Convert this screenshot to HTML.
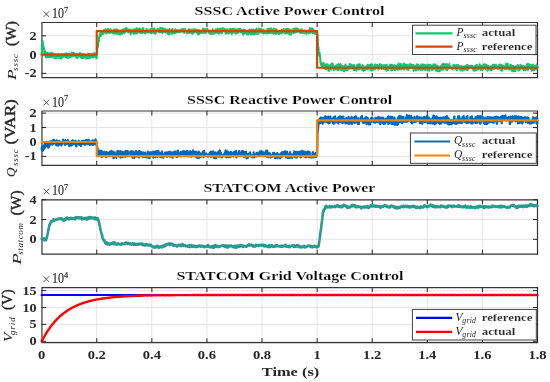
<!DOCTYPE html>
<html><head><meta charset="utf-8"><style>
html,body{margin:0;padding:0;background:#fff;width:550px;height:382px;overflow:hidden}
text{font-family:"Liberation Serif",serif}
</style></head><body>
<svg width="550" height="382" viewBox="0 0 550 382" style="display:block;will-change:transform">
<rect width="550" height="382" fill="#fff"/>
<defs>
<clipPath id="c0"><rect x="39.65" y="21.5" width="499.85" height="57.2"/></clipPath>
<clipPath id="c1"><rect x="39.65" y="110.0" width="499.85" height="56.30000000000001"/></clipPath>
<clipPath id="c2"><rect x="39.65" y="198.8" width="499.85" height="56.39999999999998"/></clipPath>
<clipPath id="c3"><rect x="39.65" y="286.6" width="499.85" height="57.099999999999966"/></clipPath>
</defs>
<line x1="96.74" y1="22.5" x2="96.74" y2="77.7" stroke="#dedede" stroke-width="0.8"/>
<line x1="151.84" y1="22.5" x2="151.84" y2="77.7" stroke="#dedede" stroke-width="0.8"/>
<line x1="206.93" y1="22.5" x2="206.93" y2="77.7" stroke="#dedede" stroke-width="0.8"/>
<line x1="262.03" y1="22.5" x2="262.03" y2="77.7" stroke="#dedede" stroke-width="0.8"/>
<line x1="317.12" y1="22.5" x2="317.12" y2="77.7" stroke="#dedede" stroke-width="0.8"/>
<line x1="372.22" y1="22.5" x2="372.22" y2="77.7" stroke="#dedede" stroke-width="0.8"/>
<line x1="427.31" y1="22.5" x2="427.31" y2="77.7" stroke="#dedede" stroke-width="0.8"/>
<line x1="482.41" y1="22.5" x2="482.41" y2="77.7" stroke="#dedede" stroke-width="0.8"/>
<line x1="537.50" y1="22.5" x2="537.50" y2="77.7" stroke="#dedede" stroke-width="0.8"/>
<line x1="41.65" y1="73.40" x2="537.5" y2="73.40" stroke="#dedede" stroke-width="0.8"/>
<line x1="41.65" y1="54.60" x2="537.5" y2="54.60" stroke="#dedede" stroke-width="0.8"/>
<line x1="41.65" y1="35.80" x2="537.5" y2="35.80" stroke="#dedede" stroke-width="0.8"/>
<line x1="96.74" y1="111.0" x2="96.74" y2="165.3" stroke="#dedede" stroke-width="0.8"/>
<line x1="151.84" y1="111.0" x2="151.84" y2="165.3" stroke="#dedede" stroke-width="0.8"/>
<line x1="206.93" y1="111.0" x2="206.93" y2="165.3" stroke="#dedede" stroke-width="0.8"/>
<line x1="262.03" y1="111.0" x2="262.03" y2="165.3" stroke="#dedede" stroke-width="0.8"/>
<line x1="317.12" y1="111.0" x2="317.12" y2="165.3" stroke="#dedede" stroke-width="0.8"/>
<line x1="372.22" y1="111.0" x2="372.22" y2="165.3" stroke="#dedede" stroke-width="0.8"/>
<line x1="427.31" y1="111.0" x2="427.31" y2="165.3" stroke="#dedede" stroke-width="0.8"/>
<line x1="482.41" y1="111.0" x2="482.41" y2="165.3" stroke="#dedede" stroke-width="0.8"/>
<line x1="537.50" y1="111.0" x2="537.50" y2="165.3" stroke="#dedede" stroke-width="0.8"/>
<line x1="41.65" y1="156.45" x2="537.5" y2="156.45" stroke="#dedede" stroke-width="0.8"/>
<line x1="41.65" y1="142.00" x2="537.5" y2="142.00" stroke="#dedede" stroke-width="0.8"/>
<line x1="41.65" y1="127.55" x2="537.5" y2="127.55" stroke="#dedede" stroke-width="0.8"/>
<line x1="41.65" y1="113.10" x2="537.5" y2="113.10" stroke="#dedede" stroke-width="0.8"/>
<line x1="96.74" y1="199.8" x2="96.74" y2="254.2" stroke="#dedede" stroke-width="0.8"/>
<line x1="151.84" y1="199.8" x2="151.84" y2="254.2" stroke="#dedede" stroke-width="0.8"/>
<line x1="206.93" y1="199.8" x2="206.93" y2="254.2" stroke="#dedede" stroke-width="0.8"/>
<line x1="262.03" y1="199.8" x2="262.03" y2="254.2" stroke="#dedede" stroke-width="0.8"/>
<line x1="317.12" y1="199.8" x2="317.12" y2="254.2" stroke="#dedede" stroke-width="0.8"/>
<line x1="372.22" y1="199.8" x2="372.22" y2="254.2" stroke="#dedede" stroke-width="0.8"/>
<line x1="427.31" y1="199.8" x2="427.31" y2="254.2" stroke="#dedede" stroke-width="0.8"/>
<line x1="482.41" y1="199.8" x2="482.41" y2="254.2" stroke="#dedede" stroke-width="0.8"/>
<line x1="537.50" y1="199.8" x2="537.50" y2="254.2" stroke="#dedede" stroke-width="0.8"/>
<line x1="41.65" y1="239.30" x2="537.5" y2="239.30" stroke="#dedede" stroke-width="0.8"/>
<line x1="41.65" y1="219.50" x2="537.5" y2="219.50" stroke="#dedede" stroke-width="0.8"/>
<line x1="41.65" y1="199.70" x2="537.5" y2="199.70" stroke="#dedede" stroke-width="0.8"/>
<line x1="96.74" y1="287.6" x2="96.74" y2="342.7" stroke="#dedede" stroke-width="0.8"/>
<line x1="151.84" y1="287.6" x2="151.84" y2="342.7" stroke="#dedede" stroke-width="0.8"/>
<line x1="206.93" y1="287.6" x2="206.93" y2="342.7" stroke="#dedede" stroke-width="0.8"/>
<line x1="262.03" y1="287.6" x2="262.03" y2="342.7" stroke="#dedede" stroke-width="0.8"/>
<line x1="317.12" y1="287.6" x2="317.12" y2="342.7" stroke="#dedede" stroke-width="0.8"/>
<line x1="372.22" y1="287.6" x2="372.22" y2="342.7" stroke="#dedede" stroke-width="0.8"/>
<line x1="427.31" y1="287.6" x2="427.31" y2="342.7" stroke="#dedede" stroke-width="0.8"/>
<line x1="482.41" y1="287.6" x2="482.41" y2="342.7" stroke="#dedede" stroke-width="0.8"/>
<line x1="537.50" y1="287.6" x2="537.50" y2="342.7" stroke="#dedede" stroke-width="0.8"/>
<line x1="41.65" y1="341.30" x2="537.5" y2="341.30" stroke="#dedede" stroke-width="0.8"/>
<line x1="41.65" y1="324.40" x2="537.5" y2="324.40" stroke="#dedede" stroke-width="0.8"/>
<line x1="41.65" y1="307.50" x2="537.5" y2="307.50" stroke="#dedede" stroke-width="0.8"/>
<line x1="41.65" y1="290.60" x2="537.5" y2="290.60" stroke="#dedede" stroke-width="0.8"/>
<path d="M41.949999999999996,22.5 H537.5 V77.7 H41.949999999999996 Z" fill="none" stroke="#363636" stroke-width="1.2"/>
<line x1="96.74" y1="77.7" x2="96.74" y2="73.2" stroke="#262626" stroke-width="1"/>
<line x1="96.74" y1="22.5" x2="96.74" y2="27.0" stroke="#262626" stroke-width="1"/>
<line x1="151.84" y1="77.7" x2="151.84" y2="73.2" stroke="#262626" stroke-width="1"/>
<line x1="151.84" y1="22.5" x2="151.84" y2="27.0" stroke="#262626" stroke-width="1"/>
<line x1="206.93" y1="77.7" x2="206.93" y2="73.2" stroke="#262626" stroke-width="1"/>
<line x1="206.93" y1="22.5" x2="206.93" y2="27.0" stroke="#262626" stroke-width="1"/>
<line x1="262.03" y1="77.7" x2="262.03" y2="73.2" stroke="#262626" stroke-width="1"/>
<line x1="262.03" y1="22.5" x2="262.03" y2="27.0" stroke="#262626" stroke-width="1"/>
<line x1="317.12" y1="77.7" x2="317.12" y2="73.2" stroke="#262626" stroke-width="1"/>
<line x1="317.12" y1="22.5" x2="317.12" y2="27.0" stroke="#262626" stroke-width="1"/>
<line x1="372.22" y1="77.7" x2="372.22" y2="73.2" stroke="#262626" stroke-width="1"/>
<line x1="372.22" y1="22.5" x2="372.22" y2="27.0" stroke="#262626" stroke-width="1"/>
<line x1="427.31" y1="77.7" x2="427.31" y2="73.2" stroke="#262626" stroke-width="1"/>
<line x1="427.31" y1="22.5" x2="427.31" y2="27.0" stroke="#262626" stroke-width="1"/>
<line x1="482.41" y1="77.7" x2="482.41" y2="73.2" stroke="#262626" stroke-width="1"/>
<line x1="482.41" y1="22.5" x2="482.41" y2="27.0" stroke="#262626" stroke-width="1"/>
<line x1="537.50" y1="77.7" x2="537.50" y2="73.2" stroke="#262626" stroke-width="1"/>
<line x1="537.50" y1="22.5" x2="537.50" y2="27.0" stroke="#262626" stroke-width="1"/>
<line x1="41.65" y1="73.40" x2="46.15" y2="73.40" stroke="#262626" stroke-width="1"/>
<line x1="537.5" y1="73.40" x2="533.0" y2="73.40" stroke="#262626" stroke-width="1"/>
<line x1="41.65" y1="54.60" x2="46.15" y2="54.60" stroke="#262626" stroke-width="1"/>
<line x1="537.5" y1="54.60" x2="533.0" y2="54.60" stroke="#262626" stroke-width="1"/>
<line x1="41.65" y1="35.80" x2="46.15" y2="35.80" stroke="#262626" stroke-width="1"/>
<line x1="537.5" y1="35.80" x2="533.0" y2="35.80" stroke="#262626" stroke-width="1"/>
<path d="M41.949999999999996,111.0 H537.5 V165.3 H41.949999999999996 Z" fill="none" stroke="#363636" stroke-width="1.2"/>
<line x1="96.74" y1="165.3" x2="96.74" y2="160.8" stroke="#262626" stroke-width="1"/>
<line x1="96.74" y1="111.0" x2="96.74" y2="115.5" stroke="#262626" stroke-width="1"/>
<line x1="151.84" y1="165.3" x2="151.84" y2="160.8" stroke="#262626" stroke-width="1"/>
<line x1="151.84" y1="111.0" x2="151.84" y2="115.5" stroke="#262626" stroke-width="1"/>
<line x1="206.93" y1="165.3" x2="206.93" y2="160.8" stroke="#262626" stroke-width="1"/>
<line x1="206.93" y1="111.0" x2="206.93" y2="115.5" stroke="#262626" stroke-width="1"/>
<line x1="262.03" y1="165.3" x2="262.03" y2="160.8" stroke="#262626" stroke-width="1"/>
<line x1="262.03" y1="111.0" x2="262.03" y2="115.5" stroke="#262626" stroke-width="1"/>
<line x1="317.12" y1="165.3" x2="317.12" y2="160.8" stroke="#262626" stroke-width="1"/>
<line x1="317.12" y1="111.0" x2="317.12" y2="115.5" stroke="#262626" stroke-width="1"/>
<line x1="372.22" y1="165.3" x2="372.22" y2="160.8" stroke="#262626" stroke-width="1"/>
<line x1="372.22" y1="111.0" x2="372.22" y2="115.5" stroke="#262626" stroke-width="1"/>
<line x1="427.31" y1="165.3" x2="427.31" y2="160.8" stroke="#262626" stroke-width="1"/>
<line x1="427.31" y1="111.0" x2="427.31" y2="115.5" stroke="#262626" stroke-width="1"/>
<line x1="482.41" y1="165.3" x2="482.41" y2="160.8" stroke="#262626" stroke-width="1"/>
<line x1="482.41" y1="111.0" x2="482.41" y2="115.5" stroke="#262626" stroke-width="1"/>
<line x1="537.50" y1="165.3" x2="537.50" y2="160.8" stroke="#262626" stroke-width="1"/>
<line x1="537.50" y1="111.0" x2="537.50" y2="115.5" stroke="#262626" stroke-width="1"/>
<line x1="41.65" y1="156.45" x2="46.15" y2="156.45" stroke="#262626" stroke-width="1"/>
<line x1="537.5" y1="156.45" x2="533.0" y2="156.45" stroke="#262626" stroke-width="1"/>
<line x1="41.65" y1="142.00" x2="46.15" y2="142.00" stroke="#262626" stroke-width="1"/>
<line x1="537.5" y1="142.00" x2="533.0" y2="142.00" stroke="#262626" stroke-width="1"/>
<line x1="41.65" y1="127.55" x2="46.15" y2="127.55" stroke="#262626" stroke-width="1"/>
<line x1="537.5" y1="127.55" x2="533.0" y2="127.55" stroke="#262626" stroke-width="1"/>
<line x1="41.65" y1="113.10" x2="46.15" y2="113.10" stroke="#262626" stroke-width="1"/>
<line x1="537.5" y1="113.10" x2="533.0" y2="113.10" stroke="#262626" stroke-width="1"/>
<path d="M41.949999999999996,199.8 H537.5 V254.2 H41.949999999999996 Z" fill="none" stroke="#363636" stroke-width="1.2"/>
<line x1="96.74" y1="254.2" x2="96.74" y2="249.7" stroke="#262626" stroke-width="1"/>
<line x1="96.74" y1="199.8" x2="96.74" y2="204.3" stroke="#262626" stroke-width="1"/>
<line x1="151.84" y1="254.2" x2="151.84" y2="249.7" stroke="#262626" stroke-width="1"/>
<line x1="151.84" y1="199.8" x2="151.84" y2="204.3" stroke="#262626" stroke-width="1"/>
<line x1="206.93" y1="254.2" x2="206.93" y2="249.7" stroke="#262626" stroke-width="1"/>
<line x1="206.93" y1="199.8" x2="206.93" y2="204.3" stroke="#262626" stroke-width="1"/>
<line x1="262.03" y1="254.2" x2="262.03" y2="249.7" stroke="#262626" stroke-width="1"/>
<line x1="262.03" y1="199.8" x2="262.03" y2="204.3" stroke="#262626" stroke-width="1"/>
<line x1="317.12" y1="254.2" x2="317.12" y2="249.7" stroke="#262626" stroke-width="1"/>
<line x1="317.12" y1="199.8" x2="317.12" y2="204.3" stroke="#262626" stroke-width="1"/>
<line x1="372.22" y1="254.2" x2="372.22" y2="249.7" stroke="#262626" stroke-width="1"/>
<line x1="372.22" y1="199.8" x2="372.22" y2="204.3" stroke="#262626" stroke-width="1"/>
<line x1="427.31" y1="254.2" x2="427.31" y2="249.7" stroke="#262626" stroke-width="1"/>
<line x1="427.31" y1="199.8" x2="427.31" y2="204.3" stroke="#262626" stroke-width="1"/>
<line x1="482.41" y1="254.2" x2="482.41" y2="249.7" stroke="#262626" stroke-width="1"/>
<line x1="482.41" y1="199.8" x2="482.41" y2="204.3" stroke="#262626" stroke-width="1"/>
<line x1="537.50" y1="254.2" x2="537.50" y2="249.7" stroke="#262626" stroke-width="1"/>
<line x1="537.50" y1="199.8" x2="537.50" y2="204.3" stroke="#262626" stroke-width="1"/>
<line x1="41.65" y1="239.30" x2="46.15" y2="239.30" stroke="#262626" stroke-width="1"/>
<line x1="537.5" y1="239.30" x2="533.0" y2="239.30" stroke="#262626" stroke-width="1"/>
<line x1="41.65" y1="219.50" x2="46.15" y2="219.50" stroke="#262626" stroke-width="1"/>
<line x1="537.5" y1="219.50" x2="533.0" y2="219.50" stroke="#262626" stroke-width="1"/>
<line x1="41.65" y1="199.70" x2="46.15" y2="199.70" stroke="#262626" stroke-width="1"/>
<line x1="537.5" y1="199.70" x2="533.0" y2="199.70" stroke="#262626" stroke-width="1"/>
<path d="M41.949999999999996,287.6 H537.5 V342.7 H41.949999999999996 Z" fill="none" stroke="#363636" stroke-width="1.2"/>
<line x1="96.74" y1="342.7" x2="96.74" y2="338.2" stroke="#262626" stroke-width="1"/>
<line x1="96.74" y1="287.6" x2="96.74" y2="292.1" stroke="#262626" stroke-width="1"/>
<line x1="151.84" y1="342.7" x2="151.84" y2="338.2" stroke="#262626" stroke-width="1"/>
<line x1="151.84" y1="287.6" x2="151.84" y2="292.1" stroke="#262626" stroke-width="1"/>
<line x1="206.93" y1="342.7" x2="206.93" y2="338.2" stroke="#262626" stroke-width="1"/>
<line x1="206.93" y1="287.6" x2="206.93" y2="292.1" stroke="#262626" stroke-width="1"/>
<line x1="262.03" y1="342.7" x2="262.03" y2="338.2" stroke="#262626" stroke-width="1"/>
<line x1="262.03" y1="287.6" x2="262.03" y2="292.1" stroke="#262626" stroke-width="1"/>
<line x1="317.12" y1="342.7" x2="317.12" y2="338.2" stroke="#262626" stroke-width="1"/>
<line x1="317.12" y1="287.6" x2="317.12" y2="292.1" stroke="#262626" stroke-width="1"/>
<line x1="372.22" y1="342.7" x2="372.22" y2="338.2" stroke="#262626" stroke-width="1"/>
<line x1="372.22" y1="287.6" x2="372.22" y2="292.1" stroke="#262626" stroke-width="1"/>
<line x1="427.31" y1="342.7" x2="427.31" y2="338.2" stroke="#262626" stroke-width="1"/>
<line x1="427.31" y1="287.6" x2="427.31" y2="292.1" stroke="#262626" stroke-width="1"/>
<line x1="482.41" y1="342.7" x2="482.41" y2="338.2" stroke="#262626" stroke-width="1"/>
<line x1="482.41" y1="287.6" x2="482.41" y2="292.1" stroke="#262626" stroke-width="1"/>
<line x1="537.50" y1="342.7" x2="537.50" y2="338.2" stroke="#262626" stroke-width="1"/>
<line x1="537.50" y1="287.6" x2="537.50" y2="292.1" stroke="#262626" stroke-width="1"/>
<line x1="41.65" y1="341.30" x2="46.15" y2="341.30" stroke="#262626" stroke-width="1"/>
<line x1="537.5" y1="341.30" x2="533.0" y2="341.30" stroke="#262626" stroke-width="1"/>
<line x1="41.65" y1="324.40" x2="46.15" y2="324.40" stroke="#262626" stroke-width="1"/>
<line x1="537.5" y1="324.40" x2="533.0" y2="324.40" stroke="#262626" stroke-width="1"/>
<line x1="41.65" y1="307.50" x2="46.15" y2="307.50" stroke="#262626" stroke-width="1"/>
<line x1="537.5" y1="307.50" x2="533.0" y2="307.50" stroke="#262626" stroke-width="1"/>
<line x1="41.65" y1="290.60" x2="46.15" y2="290.60" stroke="#262626" stroke-width="1"/>
<line x1="537.5" y1="290.60" x2="533.0" y2="290.60" stroke="#262626" stroke-width="1"/>
<polyline clip-path="url(#c0)" fill="none" stroke="#06c96a" stroke-width="2.0" stroke-linejoin="round" stroke-linecap="round"  points="41.65,55.40 41.86,51.92 41.98,50.26 42.07,49.38 42.29,46.12 42.31,45.13 42.50,43.14 42.64,40.94 42.71,41.69 42.92,44.06 42.97,44.74 43.13,46.02 43.30,47.86 43.35,47.38 43.56,48.27 43.63,48.55 43.77,47.02 43.97,48.73 43.98,49.70 44.19,48.50 44.30,52.69 44.40,53.73 44.62,51.60 44.63,54.66 44.83,55.06 44.96,53.12 45.04,53.59 45.25,51.56 45.29,53.39 45.46,54.37 45.62,54.75 45.68,56.03 45.89,57.18 45.95,56.44 46.10,54.46 46.28,56.67 46.31,55.96 46.52,57.49 46.61,53.54 46.74,57.00 46.94,56.19 46.95,53.03 47.16,54.64 47.27,52.96 47.37,54.20 47.58,53.62 47.60,56.74 47.80,54.51 47.93,54.71 48.01,53.31 48.22,55.94 48.27,54.57 48.43,57.13 48.60,55.72 48.64,56.26 48.85,57.12 48.93,54.10 49.07,56.40 49.26,53.30 49.28,55.53 49.49,55.41 49.59,54.94 49.70,54.61 49.91,57.28 49.92,55.66 50.25,56.55 50.58,55.71 50.91,57.12 51.24,52.58 51.57,56.21 51.90,54.07 52.24,55.85 52.57,53.36 52.90,54.59 53.23,57.31 53.56,53.88 53.89,53.90 54.22,54.24 54.55,55.83 54.88,57.99 55.21,57.97 55.54,54.17 55.87,56.18 56.20,58.01 56.54,54.13 56.87,55.39 57.20,55.77 57.53,56.51 57.86,56.17 58.19,57.00 58.52,57.95 58.85,53.72 59.18,55.87 59.51,55.67 59.84,56.75 60.17,54.76 60.50,58.60 60.84,56.93 61.17,58.49 61.50,58.30 61.83,54.11 62.16,55.52 62.49,56.77 62.82,56.43 63.15,54.21 63.48,56.64 63.81,55.38 64.14,54.79 64.47,56.40 64.81,55.45 65.14,54.18 65.47,53.46 65.80,57.21 66.13,53.29 66.46,57.80 66.79,54.14 67.12,54.21 67.45,57.66 67.78,56.26 68.11,54.03 68.44,57.88 68.77,54.98 69.11,54.37 69.44,55.65 69.77,54.49 70.10,57.06 70.43,56.86 70.76,56.05 71.09,56.62 71.42,55.66 71.75,52.57 72.08,54.88 72.41,55.98 72.74,56.25 73.07,52.88 73.41,55.63 73.74,52.98 74.07,55.33 74.40,55.62 74.73,53.85 75.06,54.82 75.39,55.60 75.72,56.60 76.05,54.32 76.38,56.55 76.71,54.02 77.04,58.21 77.38,56.24 77.71,56.03 78.04,53.88 78.37,57.09 78.70,54.48 79.03,54.88 79.36,54.63 79.69,54.95 80.02,53.05 80.35,56.40 80.68,56.33 81.01,57.40 81.34,58.13 81.68,57.27 82.01,53.89 82.34,54.40 82.67,58.10 83.00,55.83 83.33,56.74 83.66,56.20 83.99,56.04 84.32,57.73 84.65,54.48 84.98,56.86 85.31,56.02 85.64,55.86 85.98,57.93 86.31,58.67 86.64,56.78 86.97,55.24 87.30,54.75 87.63,55.35 87.96,58.14 88.29,54.15 88.62,54.61 88.95,54.07 89.28,55.66 89.61,53.78 89.94,57.96 90.28,57.89 90.61,57.68 90.94,56.26 91.27,56.35 91.60,56.19 91.93,54.48 92.26,56.98 92.59,54.31 92.92,56.46 93.25,53.99 93.58,57.42 93.91,56.06 94.25,52.96 94.58,55.04 94.91,54.16 95.24,54.91 95.57,55.25 95.90,57.42 96.23,55.54 96.56,58.35 96.89,52.42 97.22,47.97 97.55,45.13 97.88,47.23 98.21,43.45 98.55,41.83 98.88,41.06 99.21,37.12 99.54,35.33 99.87,36.71 100.20,33.12 100.53,32.67 100.86,35.94 101.19,32.10 101.52,31.08 101.85,34.07 102.18,31.96 102.51,31.61 102.85,31.56 103.18,33.95 103.51,30.57 103.84,30.78 104.17,29.66 104.50,29.64 104.83,32.32 105.16,30.18 105.49,29.38 105.82,29.52 106.15,33.09 106.48,33.57 106.82,30.39 107.15,32.79 107.48,30.75 107.81,28.75 108.14,31.87 108.47,32.48 108.80,31.00 109.13,29.78 109.46,33.04 109.79,31.29 110.12,32.91 110.45,30.18 110.78,29.23 111.12,31.91 111.45,32.13 111.78,31.26 112.11,32.72 112.44,32.50 112.77,32.43 113.10,31.62 113.43,33.45 113.76,29.86 114.09,30.69 114.42,32.14 114.75,33.43 115.08,29.47 115.42,33.10 115.75,33.38 116.08,33.41 116.41,33.87 116.74,29.21 117.07,32.92 117.40,33.00 117.73,30.35 118.06,31.69 118.39,33.93 118.72,32.75 119.05,30.33 119.38,33.12 119.72,31.14 120.05,34.54 120.38,31.01 120.71,30.91 121.04,30.21 121.37,30.98 121.70,32.45 122.03,34.05 122.36,31.43 122.69,29.89 123.02,32.95 123.35,32.48 123.69,30.72 124.02,29.75 124.35,28.98 124.68,32.73 125.01,32.61 125.34,29.13 125.67,29.72 126.00,29.28 126.33,28.07 126.66,28.22 126.99,29.04 127.32,29.15 127.65,31.22 127.99,29.85 128.32,32.38 128.65,29.47 128.98,29.52 129.31,29.86 129.64,31.59 129.97,32.27 130.30,31.99 130.63,34.24 130.96,29.70 131.29,31.46 131.62,32.62 131.95,31.59 132.29,30.59 132.62,32.55 132.95,30.28 133.28,29.83 133.61,32.75 133.94,33.97 134.27,30.51 134.60,29.05 134.93,33.49 135.26,30.25 135.59,29.51 135.92,29.21 136.26,33.40 136.59,33.45 136.92,28.23 137.25,32.83 137.58,32.39 137.91,29.98 138.24,30.60 138.57,29.01 138.90,32.15 139.23,28.38 139.56,32.11 139.89,28.83 140.22,32.85 140.56,30.45 140.89,33.02 141.22,31.36 141.55,31.53 141.88,29.46 142.21,30.73 142.54,33.00 142.87,28.11 143.20,28.81 143.53,28.73 143.86,32.23 144.19,31.33 144.52,32.35 144.86,33.02 145.19,33.61 145.52,30.94 145.85,32.75 146.18,32.82 146.51,28.97 146.84,30.81 147.17,32.49 147.50,29.80 147.83,32.32 148.16,31.23 148.49,32.60 148.83,31.13 149.16,30.62 149.49,31.39 149.82,32.20 150.15,29.91 150.48,29.41 150.81,33.05 151.14,33.22 151.47,33.23 151.80,28.51 152.13,28.42 152.46,32.38 152.79,28.43 153.13,32.38 153.46,30.56 153.79,30.82 154.12,28.61 154.45,33.47 154.78,32.27 155.11,30.72 155.44,33.74 155.77,32.86 156.10,31.62 156.43,29.42 156.76,29.81 157.09,29.41 157.43,29.74 157.76,30.02 158.09,28.92 158.42,29.84 158.75,29.44 159.08,31.70 159.41,32.38 159.74,28.91 160.07,32.12 160.40,27.66 160.73,29.79 161.06,31.33 161.39,28.21 161.73,32.23 162.06,30.60 162.39,32.96 162.72,28.06 163.05,30.06 163.38,29.00 163.71,32.08 164.04,29.42 164.37,30.22 164.70,30.44 165.03,28.90 165.36,31.68 165.70,32.07 166.03,30.62 166.36,29.76 166.69,32.41 167.02,31.00 167.35,33.38 167.68,31.52 168.01,30.09 168.34,34.07 168.67,30.46 169.00,34.44 169.33,29.12 169.66,31.72 170.00,31.97 170.33,30.29 170.66,31.60 170.99,30.42 171.32,33.85 171.65,31.15 171.98,31.26 172.31,28.97 172.64,33.65 172.97,31.41 173.30,30.63 173.63,30.88 173.96,33.27 174.30,30.58 174.63,32.73 174.96,32.76 175.29,29.17 175.62,33.13 175.95,31.71 176.28,30.39 176.61,30.95 176.94,31.52 177.27,30.13 177.60,32.20 177.93,31.46 178.27,30.17 178.60,30.83 178.93,30.94 179.26,32.27 179.59,31.00 179.92,31.80 180.25,29.88 180.58,31.71 180.91,31.26 181.24,29.54 181.57,30.66 181.90,31.46 182.23,28.98 182.57,31.38 182.90,29.02 183.23,29.20 183.56,31.26 183.89,29.54 184.22,33.08 184.55,31.42 184.88,29.03 185.21,30.61 185.54,31.14 185.87,30.85 186.20,30.75 186.53,31.21 186.87,31.95 187.20,33.39 187.53,32.72 187.86,33.14 188.19,32.47 188.52,29.27 188.85,32.81 189.18,32.23 189.51,32.69 189.84,31.44 190.17,29.30 190.50,29.71 190.84,32.45 191.17,33.08 191.50,29.65 191.83,31.56 192.16,30.42 192.49,33.81 192.82,29.52 193.15,32.49 193.48,31.07 193.81,32.63 194.14,31.35 194.47,29.16 194.80,29.22 195.14,31.00 195.47,29.51 195.80,31.55 196.13,31.92 196.46,30.57 196.79,32.46 197.12,32.14 197.45,30.19 197.78,29.97 198.11,34.34 198.44,30.46 198.77,29.96 199.10,32.05 199.44,33.92 199.77,30.31 200.10,32.92 200.43,30.91 200.76,32.35 201.09,30.85 201.42,32.92 201.75,31.71 202.08,31.20 202.41,30.50 202.74,32.74 203.07,28.44 203.40,32.32 203.74,32.18 204.07,32.16 204.40,33.21 204.73,30.89 205.06,29.01 205.39,29.43 205.72,32.34 206.05,32.65 206.38,31.80 206.71,29.28 207.04,31.00 207.37,28.70 207.71,30.26 208.04,30.74 208.37,30.10 208.70,30.43 209.03,32.75 209.36,33.17 209.69,32.00 210.02,31.76 210.35,33.86 210.68,32.60 211.01,31.18 211.34,34.11 211.67,33.84 212.01,33.47 212.34,32.77 212.67,29.23 213.00,33.97 213.33,32.89 213.66,33.12 213.99,31.39 214.32,33.62 214.65,30.98 214.98,32.57 215.31,31.89 215.64,29.17 215.97,32.73 216.31,30.05 216.64,31.14 216.97,31.51 217.30,29.57 217.63,33.04 217.96,28.59 218.29,28.94 218.62,30.22 218.95,33.77 219.28,30.14 219.61,30.57 219.94,29.33 220.28,32.58 220.61,28.49 220.94,28.56 221.27,32.75 221.60,31.75 221.93,33.39 222.26,29.17 222.59,28.56 222.92,28.10 223.25,30.38 223.58,30.18 223.91,30.28 224.24,30.87 224.58,28.65 224.91,30.51 225.24,31.86 225.57,30.85 225.90,33.67 226.23,29.85 226.56,30.07 226.89,31.66 227.22,29.36 227.55,29.63 227.88,31.79 228.21,33.63 228.54,33.43 228.88,33.37 229.21,32.71 229.54,31.53 229.87,29.01 230.20,32.33 230.53,29.09 230.86,30.25 231.19,29.17 231.52,31.61 231.85,34.01 232.18,29.16 232.51,32.24 232.84,32.57 233.18,28.98 233.51,29.83 233.84,32.47 234.17,32.27 234.50,28.63 234.83,32.34 235.16,29.91 235.49,33.37 235.82,29.44 236.15,33.37 236.48,31.01 236.81,33.60 237.15,30.75 237.48,29.16 237.81,33.08 238.14,31.88 238.47,28.91 238.80,30.01 239.13,31.60 239.46,29.74 239.79,30.79 240.12,28.77 240.45,32.20 240.78,29.77 241.11,30.73 241.45,30.16 241.78,32.44 242.11,30.43 242.44,30.78 242.77,32.25 243.10,34.48 243.43,29.45 243.76,30.92 244.09,33.64 244.42,30.52 244.75,32.96 245.08,32.02 245.41,29.99 245.75,32.16 246.08,33.20 246.41,32.89 246.74,34.02 247.07,33.19 247.40,33.02 247.73,33.59 248.06,34.34 248.39,32.05 248.72,33.50 249.05,30.45 249.38,29.49 249.72,32.91 250.05,31.11 250.38,31.80 250.71,34.28 251.04,34.08 251.37,29.61 251.70,31.79 252.03,29.92 252.36,34.22 252.69,31.42 253.02,29.90 253.35,29.47 253.68,34.31 254.02,31.55 254.35,32.26 254.68,30.23 255.01,33.90 255.34,33.00 255.67,29.97 256.00,31.44 256.33,31.60 256.66,28.56 256.99,32.11 257.32,34.04 257.65,31.98 257.98,33.29 258.32,33.69 258.65,30.85 258.98,28.62 259.31,30.89 259.64,30.24 259.97,31.96 260.30,30.23 260.63,29.16 260.96,30.27 261.29,29.05 261.62,30.55 261.95,32.66 262.29,30.46 262.62,31.12 262.95,33.00 263.28,30.51 263.61,29.65 263.94,33.65 264.27,31.64 264.60,30.84 264.93,32.21 265.26,33.08 265.59,32.55 265.92,31.66 266.25,30.84 266.59,31.15 266.92,33.56 267.25,29.52 267.58,28.98 267.91,33.34 268.24,32.56 268.57,32.69 268.90,29.06 269.23,28.56 269.56,33.06 269.89,31.29 270.22,32.00 270.55,30.91 270.89,28.33 271.22,32.93 271.55,32.42 271.88,30.83 272.21,30.53 272.54,29.64 272.87,31.72 273.20,33.47 273.53,32.20 273.86,28.62 274.19,30.00 274.52,33.16 274.85,29.61 275.19,32.29 275.52,29.58 275.85,33.93 276.18,29.35 276.51,33.07 276.84,31.31 277.17,30.20 277.50,31.18 277.83,33.34 278.16,33.43 278.49,32.79 278.82,34.03 279.16,33.11 279.49,33.64 279.82,31.76 280.15,32.28 280.48,30.93 280.81,32.48 281.14,33.51 281.47,32.17 281.80,29.87 282.13,32.78 282.46,31.95 282.79,30.06 283.12,32.04 283.46,29.30 283.79,29.02 284.12,32.43 284.45,30.03 284.78,32.62 285.11,33.48 285.44,31.52 285.77,30.67 286.10,28.65 286.43,33.01 286.76,29.97 287.09,31.24 287.42,33.32 287.76,28.73 288.09,30.07 288.42,33.33 288.75,29.29 289.08,34.08 289.41,34.23 289.74,33.08 290.07,29.89 290.40,34.64 290.73,29.68 291.06,31.35 291.39,34.24 291.73,31.55 292.06,32.25 292.39,31.75 292.72,30.86 293.05,30.54 293.38,28.82 293.71,33.03 294.04,29.51 294.37,31.84 294.70,29.87 295.03,29.17 295.36,28.49 295.69,32.40 296.03,31.40 296.36,28.75 296.69,28.40 297.02,31.71 297.35,28.66 297.68,31.50 298.01,31.50 298.34,29.35 298.67,30.94 299.00,30.82 299.33,31.21 299.66,30.92 299.99,32.45 300.33,32.96 300.66,29.58 300.99,30.52 301.32,29.84 301.65,29.36 301.98,32.77 302.31,33.01 302.64,32.76 302.97,33.12 303.30,30.56 303.63,32.59 303.96,32.48 304.30,30.47 304.63,32.82 304.96,33.43 305.29,30.71 305.62,30.43 305.95,32.81 306.28,30.64 306.61,33.80 306.94,31.52 307.27,30.66 307.60,32.49 307.93,32.16 308.26,30.99 308.60,31.08 308.93,33.52 309.26,29.84 309.59,33.01 309.92,28.04 310.25,32.51 310.58,32.29 310.91,32.68 311.24,28.39 311.57,32.34 311.90,30.73 312.23,28.54 312.56,28.59 312.90,33.32 313.23,30.96 313.56,30.71 313.89,30.31 314.22,32.05 314.55,32.15 314.88,33.85 315.21,33.74 315.54,31.10 315.87,33.64 316.20,33.03 316.53,32.34 316.86,33.75 317.20,35.77 317.53,35.02 317.86,42.36 318.19,47.65 318.52,47.65 318.85,54.73 319.18,55.50 319.51,52.66 319.84,54.94 320.17,57.90 320.50,62.82 320.83,62.52 321.17,65.02 321.50,64.47 321.83,66.39 322.16,66.38 322.49,63.47 322.82,67.37 323.15,67.40 323.48,63.10 323.81,66.88 324.14,66.85 324.47,68.58 324.80,64.17 325.13,65.12 325.47,66.42 325.80,66.01 326.13,69.36 326.46,68.26 326.79,66.35 327.12,64.12 327.45,64.97 327.78,66.19 328.11,67.41 328.44,70.63 328.77,65.29 329.10,70.66 329.43,69.84 329.77,66.01 330.10,65.08 330.43,65.41 330.76,67.37 331.09,68.90 331.42,69.57 331.75,64.24 332.08,63.38 332.41,68.04 332.74,63.86 333.07,66.76 333.40,67.42 333.74,66.55 334.07,70.10 334.40,67.45 334.73,69.42 335.06,66.27 335.39,67.83 335.72,65.85 336.05,65.57 336.38,69.20 336.71,69.44 337.04,65.05 337.37,67.62 337.70,70.28 338.04,70.19 338.37,64.01 338.70,66.32 339.03,69.56 339.36,66.73 339.69,66.63 340.02,67.27 340.35,64.19 340.68,64.23 341.01,69.90 341.34,70.12 341.67,68.25 342.00,65.67 342.34,67.02 342.67,66.64 343.00,67.85 343.33,70.17 343.66,66.20 343.99,71.31 344.32,66.71 344.65,69.93 344.98,67.97 345.31,64.61 345.64,67.38 345.97,70.51 346.31,68.04 346.64,66.25 346.97,69.99 347.30,68.65 347.63,70.09 347.96,66.54 348.29,67.56 348.62,66.72 348.95,67.93 349.28,65.61 349.61,68.63 349.94,63.89 350.27,63.96 350.61,66.83 350.94,67.02 351.27,64.66 351.60,68.39 351.93,65.36 352.26,68.51 352.59,65.72 352.92,68.51 353.25,66.74 353.58,64.89 353.91,70.21 354.24,65.26 354.57,67.42 354.91,68.47 355.24,68.55 355.57,70.37 355.90,69.33 356.23,67.22 356.56,70.42 356.89,66.81 357.22,64.86 357.55,64.76 357.88,65.29 358.21,65.62 358.54,69.37 358.87,64.17 359.21,68.96 359.54,64.72 359.87,64.29 360.20,66.05 360.53,67.15 360.86,68.69 361.19,66.85 361.52,68.31 361.85,69.63 362.18,69.88 362.51,65.73 362.84,65.16 363.18,70.29 363.51,71.02 363.84,69.37 364.17,70.19 364.50,69.55 364.83,67.21 365.16,68.34 365.49,68.18 365.82,69.78 366.15,66.50 366.48,68.66 366.81,67.89 367.14,67.59 367.48,64.77 367.81,69.22 368.14,66.05 368.47,68.74 368.80,65.19 369.13,68.12 369.46,67.35 369.79,64.92 370.12,66.22 370.45,70.01 370.78,69.79 371.11,64.14 371.44,70.40 371.78,68.62 372.11,64.52 372.44,70.34 372.77,69.10 373.10,68.92 373.43,69.62 373.76,67.08 374.09,66.42 374.42,68.01 374.75,69.27 375.08,64.48 375.41,64.40 375.75,66.04 376.08,68.56 376.41,66.24 376.74,65.91 377.07,67.56 377.40,64.85 377.73,67.77 378.06,66.94 378.39,69.46 378.72,66.41 379.05,65.43 379.38,65.57 379.71,68.54 380.05,64.06 380.38,65.61 380.71,67.41 381.04,67.25 381.37,65.00 381.70,68.99 382.03,66.24 382.36,65.80 382.69,67.37 383.02,65.29 383.35,68.15 383.68,67.84 384.01,69.14 384.35,65.20 384.68,69.02 385.01,66.34 385.34,68.38 385.67,65.03 386.00,64.83 386.33,70.65 386.66,64.51 386.99,66.95 387.32,70.07 387.65,67.45 387.98,70.06 388.31,66.98 388.65,69.33 388.98,68.23 389.31,68.37 389.64,66.59 389.97,65.18 390.30,64.58 390.63,68.52 390.96,66.80 391.29,70.53 391.62,68.39 391.95,64.63 392.28,70.11 392.62,65.37 392.95,66.72 393.28,69.08 393.61,65.68 393.94,68.98 394.27,65.29 394.60,70.30 394.93,70.04 395.26,65.73 395.59,67.52 395.92,69.62 396.25,66.98 396.58,68.47 396.92,67.11 397.25,65.56 397.58,64.94 397.91,69.79 398.24,66.11 398.57,63.40 398.90,66.77 399.23,64.91 399.56,69.42 399.89,64.53 400.22,66.31 400.55,64.05 400.88,64.43 401.22,64.22 401.55,69.43 401.88,65.41 402.21,68.59 402.54,68.30 402.87,67.90 403.20,66.31 403.53,65.80 403.86,63.61 404.19,69.57 404.52,68.76 404.85,67.69 405.19,64.51 405.52,66.32 405.85,66.49 406.18,64.99 406.51,65.62 406.84,67.94 407.17,69.49 407.50,67.17 407.83,64.72 408.16,66.73 408.49,69.98 408.82,67.62 409.15,68.15 409.49,66.41 409.82,66.26 410.15,63.95 410.48,68.12 410.81,67.83 411.14,66.45 411.47,64.84 411.80,65.98 412.13,67.46 412.46,65.36 412.79,67.56 413.12,64.80 413.45,69.74 413.79,70.78 414.12,66.37 414.45,69.52 414.78,65.79 415.11,67.21 415.44,67.70 415.77,70.44 416.10,65.58 416.43,70.01 416.76,64.15 417.09,64.68 417.42,68.13 417.76,69.55 418.09,64.82 418.42,67.45 418.75,69.84 419.08,67.47 419.41,69.05 419.74,67.96 420.07,66.74 420.40,65.20 420.73,66.02 421.06,69.89 421.39,68.05 421.72,67.46 422.06,64.26 422.39,69.87 422.72,67.31 423.05,64.59 423.38,68.16 423.71,69.08 424.04,67.21 424.37,68.57 424.70,64.74 425.03,70.03 425.36,69.23 425.69,70.25 426.02,66.11 426.36,68.96 426.69,65.18 427.02,65.09 427.35,64.58 427.68,68.81 428.01,70.60 428.34,68.44 428.67,64.77 429.00,66.13 429.33,70.57 429.66,66.62 429.99,65.37 430.32,64.92 430.66,66.34 430.99,65.69 431.32,65.72 431.65,68.69 431.98,70.21 432.31,66.05 432.64,69.85 432.97,68.49 433.30,64.60 433.63,67.27 433.96,67.40 434.29,64.81 434.63,68.98 434.96,64.30 435.29,65.17 435.62,69.01 435.95,69.32 436.28,70.65 436.61,65.49 436.94,70.04 437.27,71.27 437.60,65.75 437.93,67.68 438.26,67.26 438.59,66.99 438.93,71.36 439.26,70.95 439.59,68.19 439.92,70.99 440.25,67.72 440.58,66.24 440.91,66.55 441.24,66.47 441.57,69.77 441.90,68.65 442.23,64.18 442.56,69.02 442.89,66.50 443.23,69.59 443.56,63.70 443.89,68.60 444.22,67.35 444.55,66.22 444.88,65.37 445.21,64.28 445.54,65.66 445.87,67.95 446.20,69.81 446.53,65.92 446.86,64.05 447.20,70.07 447.53,65.07 447.86,69.07 448.19,67.20 448.52,67.01 448.85,66.53 449.18,64.09 449.51,65.98 449.84,68.02 450.17,66.20 450.50,67.53 450.83,67.88 451.16,68.12 451.50,67.64 451.83,68.84 452.16,68.98 452.49,69.63 452.82,67.66 453.15,68.39 453.48,64.86 453.81,64.88 454.14,68.35 454.47,66.89 454.80,65.34 455.13,68.96 455.46,67.53 455.80,68.25 456.13,67.16 456.46,65.07 456.79,70.35 457.12,65.18 457.45,67.38 457.78,66.05 458.11,66.63 458.44,65.05 458.77,68.52 459.10,66.12 459.43,69.25 459.77,67.77 460.10,66.67 460.43,69.64 460.76,70.47 461.09,65.90 461.42,65.88 461.75,67.30 462.08,69.61 462.41,67.38 462.74,70.77 463.07,67.10 463.40,67.30 463.73,66.90 464.07,67.90 464.40,69.69 464.73,66.61 465.06,68.08 465.39,65.92 465.72,68.18 466.05,69.83 466.38,66.95 466.71,66.64 467.04,64.73 467.37,64.96 467.70,70.26 468.03,65.72 468.37,68.76 468.70,65.73 469.03,67.82 469.36,68.48 469.69,67.22 470.02,67.01 470.35,65.91 470.68,66.03 471.01,65.55 471.34,67.57 471.67,65.67 472.00,67.90 472.33,66.27 472.67,67.58 473.00,66.81 473.33,70.43 473.66,67.49 473.99,69.42 474.32,68.48 474.65,70.70 474.98,67.07 475.31,65.47 475.64,68.75 475.97,70.16 476.30,66.66 476.64,69.60 476.97,64.78 477.30,69.43 477.63,68.05 477.96,67.10 478.29,69.39 478.62,68.05 478.95,68.31 479.28,65.66 479.61,64.25 479.94,68.18 480.27,65.78 480.60,69.94 480.94,67.02 481.27,68.34 481.60,69.29 481.93,65.78 482.26,66.47 482.59,70.07 482.92,69.45 483.25,65.82 483.58,64.42 483.91,66.83 484.24,64.97 484.57,64.13 484.90,66.00 485.24,66.16 485.57,68.92 485.90,68.09 486.23,66.13 486.56,64.68 486.89,68.38 487.22,67.95 487.55,70.71 487.88,66.37 488.21,67.91 488.54,65.89 488.87,69.39 489.21,66.87 489.54,66.73 489.87,68.02 490.20,70.00 490.53,68.36 490.86,66.22 491.19,69.66 491.52,70.13 491.85,67.78 492.18,69.36 492.51,65.61 492.84,65.65 493.17,64.65 493.51,65.12 493.84,66.08 494.17,68.76 494.50,64.79 494.83,65.33 495.16,65.29 495.49,65.60 495.82,64.67 496.15,67.88 496.48,65.53 496.81,66.46 497.14,67.50 497.47,67.66 497.81,69.06 498.14,66.93 498.47,67.79 498.80,67.47 499.13,64.83 499.46,66.17 499.79,66.25 500.12,64.60 500.45,69.46 500.78,67.61 501.11,70.35 501.44,68.48 501.77,64.88 502.11,70.79 502.44,66.45 502.77,65.92 503.10,68.10 503.43,65.95 503.76,68.34 504.09,68.48 504.42,67.36 504.75,69.17 505.08,68.53 505.41,68.56 505.74,64.07 506.08,67.88 506.41,68.72 506.74,63.84 507.07,68.93 507.40,63.57 507.73,64.22 508.06,65.97 508.39,67.60 508.72,68.91 509.05,69.48 509.38,69.65 509.71,68.17 510.04,67.99 510.38,64.76 510.71,67.67 511.04,65.05 511.37,66.86 511.70,70.60 512.03,67.87 512.36,70.19 512.69,71.12 513.02,65.65 513.35,69.38 513.68,70.48 514.01,71.15 514.34,67.47 514.68,68.40 515.01,71.10 515.34,66.83 515.67,69.82 516.00,66.17 516.33,68.21 516.66,68.21 516.99,68.40 517.32,66.89 517.65,64.71 517.98,65.92 518.31,70.38 518.65,67.75 518.98,69.52 519.31,70.26 519.64,69.61 519.97,69.45 520.30,64.68 520.63,65.83 520.96,65.06 521.29,66.11 521.62,68.50 521.95,68.06 522.28,68.08 522.61,68.81 522.95,68.03 523.28,65.75 523.61,70.20 523.94,69.07 524.27,67.92 524.60,66.47 524.93,67.12 525.26,66.51 525.59,70.29 525.92,69.62 526.25,68.59 526.58,68.77 526.91,65.32 527.25,63.92 527.58,65.88 527.91,69.99 528.24,68.17 528.57,65.10 528.90,63.91 529.23,66.18 529.56,68.05 529.89,68.10 530.22,66.41 530.55,65.05 530.88,68.65 531.22,69.61 531.55,70.61 531.88,69.75 532.21,65.44 532.54,66.76 532.87,64.61 533.20,70.38 533.53,68.49 533.86,65.62 534.19,66.37 534.52,70.23 534.85,68.07 535.18,66.13 535.52,66.31 535.85,67.80 536.18,69.24 536.51,64.55 536.84,67.83 537.17,66.01 537.50,67.22"/>
<polyline clip-path="url(#c0)" fill="none" stroke="#d64508" stroke-width="2.2" stroke-linejoin="round" stroke-linecap="round"  points="41.65,54.60 96.74,54.60 96.74,31.10 317.12,31.10 317.12,67.76 537.50,67.76"/>
<polyline clip-path="url(#c1)" fill="none" stroke="#0569b8" stroke-width="2.2" stroke-linejoin="round" stroke-linecap="round"  points="41.65,148.46 41.86,150.15 41.98,147.71 42.07,146.71 42.29,147.67 42.31,150.81 42.50,150.65 42.64,148.45 42.71,150.37 42.92,150.17 42.97,147.14 43.13,148.38 43.30,150.34 43.35,145.82 43.56,148.68 43.63,145.66 43.77,146.79 43.97,146.54 43.98,147.59 44.19,146.21 44.30,148.56 44.40,148.03 44.62,144.08 44.63,147.54 44.83,146.56 44.96,144.35 45.04,146.53 45.25,145.99 45.29,142.98 45.46,146.88 45.62,146.69 45.68,142.56 45.89,146.01 45.95,145.71 46.10,142.27 46.28,145.80 46.31,141.88 46.52,142.54 46.61,142.51 46.74,146.32 46.94,146.06 46.95,142.89 47.16,142.47 47.27,145.90 47.37,146.23 47.58,146.11 47.60,146.99 47.80,145.14 47.93,144.74 48.01,144.27 48.22,147.59 48.27,146.56 48.43,147.13 48.60,146.17 48.64,146.54 48.85,142.43 48.93,145.70 49.07,146.87 49.26,143.54 49.28,141.58 49.49,142.50 49.59,143.14 49.70,144.70 49.91,144.37 49.92,145.00 50.25,142.01 50.58,141.82 50.91,143.42 51.24,140.99 51.57,142.25 51.90,142.22 52.24,144.55 52.57,144.02 52.90,144.09 53.23,139.92 53.56,140.81 53.89,140.00 54.22,140.74 54.55,141.01 54.88,143.02 55.21,141.30 55.54,144.38 55.87,141.37 56.20,145.12 56.54,140.39 56.87,141.15 57.20,145.46 57.53,141.76 57.86,141.48 58.19,145.71 58.52,142.52 58.85,143.48 59.18,142.11 59.51,140.96 59.84,142.04 60.17,144.71 60.50,142.46 60.84,142.29 61.17,145.32 61.50,144.49 61.83,143.01 62.16,144.30 62.49,144.05 62.82,141.40 63.15,139.63 63.48,142.45 63.81,141.27 64.14,140.84 64.47,141.20 64.81,141.17 65.14,144.93 65.47,140.14 65.80,144.33 66.13,143.92 66.46,142.10 66.79,141.66 67.12,141.02 67.45,143.69 67.78,140.18 68.11,142.14 68.44,141.31 68.77,143.62 69.11,145.88 69.44,146.06 69.77,142.61 70.10,144.09 70.43,143.75 70.76,144.71 71.09,145.64 71.42,143.73 71.75,144.73 72.08,140.73 72.41,144.79 72.74,140.27 73.07,141.03 73.41,143.82 73.74,141.64 74.07,142.69 74.40,143.65 74.73,141.54 75.06,141.05 75.39,144.72 75.72,140.90 76.05,146.23 76.38,146.43 76.71,143.42 77.04,144.56 77.38,143.96 77.71,143.82 78.04,143.96 78.37,141.17 78.70,140.83 79.03,144.41 79.36,144.91 79.69,142.53 80.02,145.07 80.35,143.90 80.68,142.07 81.01,146.00 81.34,141.40 81.68,141.22 82.01,143.13 82.34,144.01 82.67,142.45 83.00,143.89 83.33,140.88 83.66,142.18 83.99,143.99 84.32,140.88 84.65,142.07 84.98,144.87 85.31,143.31 85.64,142.92 85.98,140.05 86.31,143.69 86.64,142.97 86.97,139.77 87.30,142.57 87.63,140.25 87.96,144.38 88.29,142.85 88.62,144.19 88.95,140.13 89.28,142.08 89.61,143.77 89.94,144.91 90.28,142.82 90.61,144.60 90.94,142.42 91.27,141.28 91.60,143.90 91.93,144.59 92.26,143.29 92.59,144.53 92.92,140.43 93.25,144.83 93.58,141.21 93.91,143.26 94.25,140.95 94.58,140.69 94.91,144.12 95.24,140.50 95.57,139.45 95.90,141.56 96.23,141.15 96.56,142.52 96.89,146.44 97.22,146.92 97.55,148.83 97.88,154.43 98.21,155.96 98.55,154.55 98.88,152.90 99.21,154.88 99.54,150.65 99.87,151.76 100.20,150.95 100.53,153.29 100.86,151.96 101.19,150.75 101.52,157.05 101.85,153.20 102.18,155.73 102.51,151.72 102.85,155.70 103.18,152.52 103.51,155.48 103.84,153.48 104.17,153.35 104.50,151.86 104.83,152.25 105.16,154.82 105.49,153.17 105.82,156.54 106.15,157.15 106.48,153.47 106.82,151.95 107.15,153.03 107.48,154.63 107.81,153.86 108.14,153.29 108.47,154.27 108.80,155.54 109.13,152.56 109.46,155.38 109.79,151.95 110.12,152.63 110.45,152.65 110.78,152.67 111.12,151.23 111.45,151.02 111.78,154.32 112.11,155.19 112.44,152.83 112.77,151.49 113.10,153.72 113.43,158.06 113.76,158.06 114.09,155.19 114.42,152.98 114.75,152.33 115.08,155.58 115.42,154.61 115.75,154.47 116.08,157.15 116.41,157.73 116.74,153.92 117.07,153.84 117.40,151.10 117.73,155.54 118.06,151.07 118.39,154.85 118.72,153.43 119.05,152.75 119.38,156.58 119.72,151.33 120.05,151.34 120.38,151.23 120.71,157.60 121.04,153.55 121.37,153.50 121.70,151.84 122.03,156.32 122.36,156.96 122.69,151.73 123.02,155.20 123.35,156.56 123.69,156.46 124.02,152.77 124.35,153.51 124.68,152.16 125.01,151.55 125.34,157.01 125.67,151.17 126.00,151.61 126.33,151.00 126.66,152.35 126.99,154.49 127.32,155.37 127.65,151.05 127.99,154.09 128.32,153.69 128.65,152.40 128.98,152.66 129.31,152.65 129.64,152.89 129.97,153.53 130.30,151.97 130.63,154.32 130.96,155.49 131.29,151.06 131.62,151.81 131.95,152.94 132.29,156.80 132.62,157.64 132.95,151.76 133.28,151.56 133.61,156.04 133.94,153.79 134.27,157.81 134.60,155.13 134.93,153.27 135.26,155.61 135.59,152.02 135.92,151.15 136.26,156.47 136.59,152.73 136.92,154.88 137.25,156.36 137.58,155.14 137.91,154.18 138.24,151.46 138.57,152.45 138.90,157.36 139.23,157.05 139.56,150.99 139.89,153.91 140.22,153.32 140.56,155.14 140.89,151.91 141.22,153.84 141.55,153.92 141.88,156.09 142.21,152.58 142.54,156.44 142.87,157.03 143.20,153.98 143.53,152.46 143.86,156.07 144.19,156.07 144.52,156.90 144.86,153.98 145.19,152.60 145.52,156.97 145.85,154.57 146.18,154.37 146.51,157.27 146.84,154.53 147.17,156.20 147.50,156.82 147.83,151.60 148.16,157.74 148.49,156.24 148.83,154.41 149.16,155.89 149.49,158.09 149.82,152.42 150.15,156.51 150.48,155.42 150.81,152.30 151.14,152.27 151.47,152.29 151.80,155.66 152.13,153.23 152.46,152.58 152.79,156.97 153.13,151.72 153.46,157.62 153.79,153.57 154.12,156.59 154.45,156.99 154.78,157.12 155.11,151.50 155.44,157.14 155.77,151.71 156.10,156.62 156.43,155.28 156.76,155.91 157.09,151.03 157.43,156.90 157.76,152.12 158.09,155.65 158.42,150.87 158.75,152.32 159.08,155.42 159.41,153.68 159.74,156.25 160.07,154.46 160.40,157.17 160.73,152.73 161.06,153.35 161.39,155.54 161.73,157.12 162.06,151.24 162.39,156.84 162.72,155.57 163.05,157.56 163.38,155.36 163.71,155.14 164.04,154.18 164.37,155.49 164.70,156.28 165.03,152.57 165.36,155.82 165.70,155.56 166.03,154.24 166.36,155.55 166.69,152.41 167.02,156.81 167.35,155.19 167.68,154.64 168.01,155.92 168.34,152.03 168.67,154.98 169.00,154.59 169.33,154.40 169.66,151.91 170.00,156.34 170.33,152.48 170.66,151.85 170.99,156.37 171.32,156.98 171.65,152.87 171.98,156.15 172.31,156.70 172.64,157.71 172.97,154.33 173.30,152.19 173.63,152.76 173.96,154.26 174.30,155.21 174.63,151.58 174.96,153.65 175.29,151.67 175.62,153.42 175.95,153.04 176.28,153.07 176.61,156.82 176.94,155.60 177.27,156.98 177.60,150.83 177.93,150.56 178.27,152.96 178.60,156.00 178.93,156.11 179.26,153.89 179.59,154.32 179.92,155.52 180.25,156.18 180.58,152.62 180.91,151.78 181.24,156.37 181.57,154.81 181.90,154.88 182.23,153.24 182.57,152.51 182.90,154.08 183.23,151.17 183.56,154.39 183.89,155.26 184.22,152.06 184.55,151.44 184.88,151.37 185.21,156.24 185.54,156.07 185.87,154.46 186.20,151.28 186.53,153.74 186.87,153.80 187.20,155.60 187.53,151.02 187.86,156.32 188.19,154.15 188.52,153.57 188.85,152.61 189.18,152.52 189.51,155.48 189.84,156.16 190.17,151.20 190.50,153.90 190.84,155.55 191.17,156.70 191.50,152.09 191.83,151.91 192.16,153.45 192.49,154.36 192.82,152.52 193.15,150.46 193.48,153.13 193.81,151.88 194.14,151.62 194.47,152.68 194.80,154.27 195.14,156.29 195.47,153.10 195.80,152.23 196.13,151.72 196.46,157.13 196.79,157.63 197.12,154.21 197.45,152.87 197.78,157.93 198.11,154.15 198.44,156.23 198.77,151.59 199.10,155.75 199.44,157.73 199.77,152.94 200.10,155.94 200.43,155.33 200.76,156.75 201.09,155.26 201.42,156.47 201.75,155.37 202.08,153.48 202.41,155.47 202.74,152.84 203.07,151.51 203.40,153.34 203.74,157.04 204.07,150.81 204.40,156.03 204.73,155.22 205.06,154.04 205.39,153.65 205.72,155.57 206.05,155.04 206.38,153.65 206.71,154.99 207.04,156.25 207.37,155.71 207.71,156.01 208.04,156.60 208.37,154.55 208.70,155.11 209.03,155.95 209.36,153.63 209.69,152.88 210.02,153.42 210.35,155.78 210.68,151.58 211.01,156.95 211.34,152.08 211.67,154.43 212.01,154.88 212.34,151.95 212.67,153.39 213.00,151.35 213.33,152.38 213.66,157.65 213.99,155.54 214.32,153.63 214.65,158.20 214.98,155.19 215.31,152.35 215.64,157.45 215.97,158.08 216.31,156.88 216.64,156.25 216.97,156.32 217.30,155.16 217.63,152.39 217.96,154.02 218.29,153.32 218.62,156.65 218.95,156.78 219.28,150.65 219.61,154.78 219.94,150.70 220.28,154.67 220.61,152.85 220.94,152.85 221.27,156.95 221.60,157.13 221.93,155.20 222.26,157.22 222.59,155.84 222.92,156.32 223.25,155.66 223.58,154.47 223.91,155.32 224.24,155.02 224.58,153.81 224.91,152.59 225.24,156.58 225.57,150.23 225.90,153.88 226.23,151.07 226.56,157.31 226.89,157.00 227.22,156.95 227.55,151.44 227.88,154.74 228.21,152.04 228.54,153.24 228.88,157.16 229.21,155.27 229.54,155.45 229.87,154.63 230.20,152.43 230.53,157.22 230.86,151.74 231.19,154.39 231.52,155.32 231.85,153.21 232.18,155.89 232.51,152.83 232.84,154.78 233.18,154.61 233.51,156.51 233.84,156.28 234.17,151.78 234.50,153.17 234.83,154.16 235.16,152.07 235.49,151.30 235.82,156.44 236.15,150.74 236.48,157.34 236.81,153.38 237.15,155.70 237.48,155.62 237.81,153.96 238.14,153.41 238.47,154.73 238.80,152.71 239.13,151.06 239.46,155.93 239.79,155.28 240.12,152.99 240.45,154.24 240.78,154.88 241.11,153.63 241.45,152.51 241.78,151.26 242.11,150.97 242.44,151.79 242.77,155.09 243.10,151.38 243.43,153.19 243.76,156.87 244.09,151.95 244.42,156.73 244.75,153.95 245.08,153.74 245.41,152.10 245.75,153.81 246.08,151.75 246.41,157.90 246.74,158.38 247.07,157.35 247.40,154.40 247.73,155.52 248.06,157.64 248.39,156.44 248.72,153.87 249.05,155.30 249.38,153.21 249.72,155.00 250.05,152.35 250.38,153.14 250.71,154.78 251.04,155.70 251.37,156.73 251.70,156.32 252.03,155.92 252.36,156.36 252.69,157.41 253.02,155.14 253.35,157.46 253.68,152.38 254.02,154.42 254.35,157.16 254.68,155.55 255.01,156.04 255.34,156.54 255.67,154.33 256.00,156.17 256.33,156.30 256.66,152.82 256.99,154.62 257.32,152.83 257.65,154.02 257.98,153.85 258.32,155.38 258.65,154.21 258.98,154.06 259.31,155.05 259.64,151.59 259.97,155.45 260.30,155.55 260.63,154.64 260.96,151.69 261.29,151.24 261.62,153.30 261.95,154.60 262.29,152.72 262.62,151.91 262.95,155.65 263.28,153.01 263.61,152.74 263.94,154.66 264.27,156.15 264.60,152.93 264.93,155.80 265.26,154.72 265.59,153.61 265.92,150.86 266.25,156.03 266.59,156.61 266.92,153.40 267.25,150.52 267.58,156.60 267.91,152.99 268.24,157.25 268.57,154.00 268.90,156.60 269.23,153.05 269.56,155.13 269.89,153.24 270.22,156.16 270.55,157.40 270.89,156.95 271.22,156.36 271.55,157.10 271.88,156.98 272.21,154.81 272.54,155.39 272.87,153.11 273.20,155.58 273.53,154.90 273.86,153.52 274.19,152.74 274.52,154.55 274.85,157.99 275.19,155.36 275.52,158.20 275.85,154.23 276.18,157.67 276.51,154.93 276.84,157.66 277.17,153.01 277.50,158.14 277.83,154.59 278.16,154.30 278.49,156.90 278.82,154.75 279.16,156.37 279.49,156.85 279.82,156.73 280.15,158.26 280.48,153.53 280.81,157.15 281.14,156.16 281.47,157.08 281.80,152.42 282.13,153.98 282.46,154.50 282.79,153.86 283.12,152.20 283.46,153.32 283.79,153.99 284.12,155.70 284.45,154.29 284.78,151.32 285.11,154.19 285.44,154.87 285.77,151.85 286.10,157.32 286.43,157.32 286.76,152.61 287.09,151.72 287.42,157.77 287.76,157.84 288.09,157.92 288.42,154.48 288.75,157.35 289.08,154.42 289.41,153.61 289.74,157.98 290.07,152.13 290.40,156.19 290.73,154.10 291.06,155.67 291.39,155.65 291.73,155.36 292.06,157.85 292.39,154.62 292.72,155.67 293.05,154.85 293.38,156.12 293.71,155.22 294.04,153.16 294.37,151.43 294.70,156.82 295.03,152.10 295.36,153.69 295.69,156.95 296.03,157.50 296.36,151.91 296.69,156.39 297.02,157.31 297.35,153.65 297.68,153.25 298.01,151.82 298.34,154.16 298.67,155.43 299.00,155.32 299.33,156.17 299.66,153.63 299.99,151.64 300.33,157.07 300.66,154.71 300.99,154.82 301.32,156.84 301.65,153.42 301.98,150.81 302.31,155.75 302.64,152.60 302.97,151.79 303.30,155.75 303.63,151.24 303.96,152.26 304.30,153.14 304.63,156.41 304.96,156.16 305.29,157.09 305.62,151.82 305.95,152.35 306.28,157.05 306.61,154.12 306.94,155.81 307.27,152.41 307.60,153.76 307.93,151.40 308.26,153.19 308.60,157.22 308.93,155.54 309.26,154.13 309.59,152.01 309.92,156.02 310.25,157.13 310.58,156.32 310.91,156.72 311.24,157.48 311.57,156.18 311.90,156.95 312.23,154.97 312.56,152.60 312.90,152.07 313.23,157.39 313.56,154.54 313.89,153.51 314.22,156.93 314.55,154.69 314.88,157.07 315.21,155.87 315.54,156.34 315.87,152.83 316.20,156.89 316.53,154.65 316.86,154.20 317.20,151.94 317.53,133.78 317.86,131.06 318.19,127.18 318.52,121.77 318.85,122.00 319.18,119.32 319.51,123.39 319.84,123.07 320.17,118.42 320.50,121.31 320.83,117.65 321.17,122.68 321.50,122.33 321.83,117.63 322.16,121.46 322.49,123.62 322.82,122.81 323.15,118.60 323.48,122.48 323.81,120.47 324.14,117.69 324.47,119.30 324.80,118.39 325.13,116.31 325.47,121.58 325.80,116.75 326.13,119.06 326.46,121.79 326.79,122.13 327.12,120.47 327.45,121.94 327.78,116.91 328.11,119.28 328.44,123.36 328.77,116.48 329.10,119.05 329.43,120.43 329.77,122.91 330.10,120.51 330.43,116.67 330.76,119.65 331.09,120.77 331.42,119.49 331.75,120.15 332.08,119.18 332.41,122.16 332.74,122.62 333.07,123.37 333.40,117.26 333.74,123.78 334.07,121.83 334.40,119.52 334.73,119.96 335.06,116.42 335.39,121.93 335.72,122.66 336.05,122.26 336.38,119.92 336.71,121.76 337.04,120.56 337.37,118.29 337.70,121.10 338.04,118.63 338.37,123.64 338.70,119.46 339.03,117.12 339.36,116.73 339.69,119.32 340.02,116.28 340.35,122.03 340.68,121.23 341.01,119.84 341.34,119.47 341.67,116.96 342.00,119.79 342.34,123.09 342.67,117.99 343.00,121.62 343.33,116.55 343.66,121.89 343.99,121.06 344.32,122.41 344.65,121.33 344.98,119.10 345.31,121.70 345.64,123.42 345.97,119.37 346.31,118.12 346.64,122.89 346.97,120.22 347.30,123.03 347.63,123.44 347.96,120.87 348.29,121.44 348.62,116.80 348.95,123.84 349.28,118.82 349.61,118.18 349.94,120.35 350.27,119.75 350.61,121.85 350.94,122.25 351.27,123.63 351.60,116.95 351.93,123.78 352.26,122.80 352.59,118.17 352.92,120.14 353.25,119.49 353.58,121.39 353.91,122.45 354.24,117.15 354.57,122.80 354.91,121.12 355.24,117.78 355.57,121.34 355.90,116.23 356.23,122.42 356.56,119.98 356.89,119.94 357.22,120.59 357.55,118.48 357.88,124.00 358.21,120.44 358.54,118.33 358.87,124.27 359.21,120.40 359.54,121.11 359.87,121.14 360.20,120.18 360.53,119.41 360.86,118.66 361.19,116.96 361.52,118.59 361.85,116.20 362.18,118.91 362.51,121.60 362.84,122.38 363.18,122.94 363.51,121.46 363.84,122.81 364.17,118.50 364.50,118.45 364.83,119.09 365.16,121.07 365.49,120.73 365.82,122.30 366.15,116.80 366.48,124.20 366.81,121.94 367.14,120.29 367.48,123.43 367.81,118.12 368.14,121.06 368.47,122.11 368.80,124.43 369.13,122.75 369.46,120.08 369.79,122.50 370.12,124.33 370.45,120.14 370.78,122.50 371.11,118.00 371.44,119.22 371.78,118.88 372.11,117.46 372.44,117.91 372.77,121.60 373.10,119.46 373.43,121.84 373.76,122.09 374.09,122.08 374.42,122.67 374.75,121.35 375.08,121.40 375.41,117.85 375.75,121.21 376.08,122.42 376.41,119.44 376.74,121.31 377.07,117.70 377.40,121.46 377.73,118.95 378.06,122.14 378.39,120.12 378.72,117.19 379.05,121.87 379.38,120.09 379.71,120.78 380.05,123.83 380.38,123.99 380.71,117.50 381.04,121.44 381.37,118.90 381.70,121.17 382.03,117.69 382.36,122.72 382.69,120.50 383.02,119.78 383.35,117.81 383.68,123.84 384.01,121.38 384.35,120.83 384.68,120.06 385.01,123.71 385.34,120.40 385.67,118.91 386.00,118.59 386.33,122.23 386.66,120.68 386.99,121.60 387.32,121.09 387.65,121.13 387.98,116.59 388.31,123.89 388.65,116.40 388.98,123.29 389.31,122.93 389.64,122.08 389.97,121.48 390.30,117.12 390.63,117.06 390.96,116.58 391.29,120.71 391.62,123.83 391.95,119.29 392.28,117.11 392.62,123.50 392.95,117.88 393.28,124.19 393.61,118.78 393.94,120.62 394.27,117.63 394.60,118.09 394.93,124.57 395.26,121.36 395.59,123.52 395.92,121.76 396.25,124.57 396.58,122.22 396.92,121.96 397.25,124.98 397.58,121.11 397.91,117.96 398.24,123.94 398.57,116.82 398.90,120.35 399.23,122.06 399.56,115.87 399.89,119.67 400.22,119.94 400.55,120.53 400.88,116.35 401.22,122.49 401.55,121.97 401.88,121.39 402.21,123.21 402.54,117.25 402.87,119.96 403.20,119.16 403.53,116.94 403.86,120.29 404.19,121.94 404.52,119.68 404.85,119.94 405.19,121.31 405.52,121.65 405.85,120.46 406.18,117.43 406.51,121.86 406.84,115.15 407.17,120.94 407.50,120.56 407.83,121.28 408.16,119.15 408.49,119.55 408.82,117.10 409.15,115.60 409.49,120.65 409.82,116.35 410.15,120.29 410.48,119.41 410.81,121.91 411.14,116.12 411.47,120.18 411.80,117.97 412.13,123.40 412.46,118.10 412.79,122.01 413.12,120.25 413.45,118.44 413.79,122.13 414.12,119.37 414.45,116.90 414.78,121.89 415.11,119.41 415.44,121.77 415.77,121.89 416.10,119.09 416.43,119.31 416.76,117.83 417.09,116.28 417.42,117.63 417.76,120.94 418.09,119.86 418.42,118.54 418.75,117.39 419.08,118.75 419.41,120.00 419.74,123.06 420.07,117.38 420.40,122.16 420.73,121.43 421.06,117.89 421.39,122.93 421.72,117.49 422.06,122.84 422.39,123.75 422.72,120.50 423.05,118.12 423.38,121.04 423.71,117.40 424.04,120.54 424.37,116.97 424.70,122.25 425.03,120.59 425.36,122.11 425.69,117.23 426.02,119.57 426.36,118.00 426.69,121.27 427.02,117.62 427.35,115.94 427.68,123.18 428.01,121.66 428.34,117.50 428.67,117.71 429.00,117.81 429.33,122.88 429.66,120.04 429.99,123.31 430.32,120.79 430.66,119.33 430.99,121.74 431.32,120.39 431.65,121.02 431.98,123.18 432.31,123.54 432.64,117.86 432.97,123.52 433.30,115.70 433.63,116.28 433.96,115.91 434.29,117.81 434.63,124.23 434.96,123.46 435.29,121.71 435.62,122.33 435.95,123.37 436.28,116.45 436.61,116.48 436.94,117.86 437.27,122.09 437.60,117.55 437.93,117.71 438.26,121.33 438.59,122.96 438.93,122.86 439.26,121.12 439.59,117.97 439.92,123.90 440.25,121.13 440.58,121.76 440.91,117.59 441.24,123.34 441.57,119.67 441.90,122.07 442.23,119.57 442.56,118.00 442.89,117.68 443.23,117.29 443.56,121.66 443.89,121.65 444.22,122.64 444.55,121.48 444.88,122.42 445.21,117.12 445.54,122.59 445.87,121.54 446.20,117.19 446.53,117.41 446.86,116.15 447.20,120.78 447.53,123.76 447.86,117.71 448.19,122.06 448.52,118.36 448.85,124.35 449.18,124.42 449.51,120.12 449.84,119.86 450.17,120.66 450.50,120.92 450.83,120.35 451.16,123.94 451.50,124.22 451.83,121.80 452.16,120.08 452.49,122.54 452.82,123.10 453.15,120.88 453.48,121.13 453.81,122.06 454.14,116.91 454.47,116.53 454.80,123.51 455.13,120.18 455.46,122.09 455.80,121.64 456.13,123.91 456.46,123.28 456.79,123.41 457.12,123.02 457.45,118.87 457.78,123.10 458.11,116.41 458.44,117.28 458.77,121.68 459.10,118.26 459.43,116.28 459.77,123.01 460.10,119.82 460.43,120.48 460.76,121.68 461.09,121.33 461.42,123.09 461.75,118.52 462.08,122.45 462.41,120.71 462.74,116.73 463.07,121.15 463.40,121.26 463.73,116.09 464.07,118.72 464.40,118.97 464.73,121.83 465.06,118.91 465.39,120.68 465.72,119.61 466.05,120.64 466.38,123.11 466.71,116.65 467.04,118.07 467.37,115.99 467.70,121.19 468.03,121.47 468.37,122.80 468.70,121.57 469.03,121.16 469.36,122.43 469.69,121.91 470.02,121.53 470.35,117.07 470.68,120.28 471.01,117.49 471.34,123.53 471.67,122.46 472.00,116.36 472.33,123.43 472.67,123.03 473.00,119.72 473.33,121.35 473.66,122.10 473.99,118.82 474.32,118.87 474.65,122.32 474.98,119.52 475.31,120.18 475.64,117.10 475.97,123.23 476.30,121.57 476.64,119.04 476.97,122.98 477.30,116.97 477.63,116.07 477.96,121.19 478.29,117.47 478.62,121.39 478.95,116.10 479.28,121.71 479.61,123.34 479.94,122.87 480.27,119.94 480.60,123.53 480.94,116.08 481.27,118.54 481.60,119.01 481.93,118.73 482.26,120.56 482.59,116.78 482.92,118.20 483.25,120.71 483.58,121.78 483.91,123.08 484.24,122.07 484.57,121.63 484.90,123.98 485.24,117.49 485.57,122.73 485.90,120.33 486.23,124.08 486.56,120.56 486.89,119.80 487.22,123.99 487.55,116.93 487.88,122.93 488.21,121.76 488.54,118.45 488.87,121.61 489.21,117.40 489.54,122.28 489.87,121.95 490.20,118.78 490.53,117.34 490.86,117.18 491.19,121.89 491.52,120.17 491.85,121.33 492.18,119.29 492.51,122.41 492.84,117.69 493.17,118.71 493.51,122.96 493.84,121.80 494.17,121.65 494.50,117.20 494.83,120.58 495.16,119.23 495.49,116.86 495.82,120.90 496.15,116.52 496.48,121.59 496.81,123.74 497.14,122.94 497.47,118.05 497.81,120.53 498.14,117.10 498.47,119.30 498.80,118.36 499.13,121.13 499.46,119.21 499.79,118.23 500.12,120.81 500.45,120.03 500.78,116.90 501.11,116.43 501.44,121.12 501.77,123.11 502.11,116.97 502.44,120.00 502.77,115.77 503.10,117.33 503.43,120.24 503.76,116.57 504.09,118.72 504.42,117.38 504.75,116.10 505.08,118.23 505.41,115.43 505.74,119.82 506.08,120.07 506.41,118.28 506.74,120.44 507.07,117.98 507.40,119.70 507.73,117.90 508.06,117.58 508.39,119.47 508.72,116.91 509.05,117.96 509.38,117.43 509.71,123.93 510.04,124.04 510.38,118.87 510.71,120.89 511.04,116.60 511.37,120.09 511.70,117.56 512.03,121.64 512.36,118.59 512.69,116.37 513.02,116.78 513.35,120.51 513.68,119.38 514.01,118.93 514.34,120.42 514.68,119.44 515.01,116.10 515.34,116.88 515.67,121.31 516.00,118.13 516.33,116.27 516.66,121.02 516.99,117.30 517.32,117.81 517.65,117.28 517.98,123.42 518.31,116.91 518.65,116.48 518.98,121.99 519.31,118.85 519.64,123.02 519.97,118.88 520.30,118.27 520.63,117.95 520.96,116.91 521.29,121.15 521.62,122.69 521.95,117.30 522.28,123.47 522.61,121.93 522.95,122.19 523.28,118.06 523.61,120.83 523.94,117.87 524.27,118.97 524.60,117.34 524.93,117.81 525.26,117.33 525.59,121.97 525.92,121.54 526.25,119.48 526.58,119.57 526.91,117.82 527.25,117.41 527.58,121.30 527.91,122.78 528.24,117.52 528.57,118.37 528.90,121.42 529.23,122.87 529.56,123.32 529.89,121.61 530.22,121.60 530.55,122.19 530.88,123.44 531.22,122.65 531.55,121.03 531.88,123.06 532.21,122.45 532.54,120.50 532.87,117.32 533.20,117.40 533.53,120.56 533.86,122.59 534.19,121.44 534.52,118.32 534.85,120.29 535.18,119.26 535.52,118.03 535.85,118.84 536.18,117.42 536.51,123.30 536.84,121.92 537.17,123.82 537.50,120.30"/>
<polyline clip-path="url(#c1)" fill="none" stroke="#ef8304" stroke-width="2.2" stroke-linejoin="round" stroke-linecap="round"  points="41.65,142.00 96.74,142.00 96.74,156.16 317.12,156.16 317.12,120.33 537.50,120.33"/>
<polyline clip-path="url(#c2)" fill="none" stroke="#2a9a90" stroke-width="2.6" stroke-linejoin="round" stroke-linecap="round"  points="41.65,238.76 41.86,239.31 41.98,239.34 42.07,239.08 42.29,239.22 42.31,238.91 42.50,238.44 42.64,238.36 42.71,238.86 42.92,239.66 42.97,239.32 43.13,238.86 43.30,239.96 43.35,239.13 43.56,238.67 43.63,239.50 43.77,239.66 43.97,238.59 43.98,239.07 44.19,239.92 44.30,239.51 44.40,239.32 44.62,240.09 44.63,238.43 44.83,240.14 44.96,239.82 45.04,240.39 45.25,239.48 45.29,240.28 45.46,239.65 45.62,239.19 45.68,239.58 45.89,239.39 45.95,238.86 46.10,240.04 46.28,238.97 46.31,239.23 46.52,238.41 46.61,237.76 46.74,237.61 46.94,237.11 46.95,237.41 47.16,236.04 47.27,235.31 47.37,235.16 47.58,234.39 47.60,234.07 47.80,233.01 47.93,231.98 48.01,231.30 48.22,230.64 48.27,230.65 48.43,229.26 48.60,229.04 48.64,229.63 48.85,227.27 48.93,227.73 49.07,226.77 49.26,225.92 49.28,224.99 49.49,225.09 49.59,224.36 49.70,224.42 49.91,224.40 49.92,224.83 50.25,223.43 50.58,222.83 50.91,221.90 51.24,221.21 51.57,221.78 51.90,221.44 52.24,221.28 52.57,220.88 52.90,220.77 53.23,220.81 53.56,219.39 53.89,221.07 54.22,219.83 54.55,219.70 54.88,219.95 55.21,220.14 55.54,219.52 55.87,219.82 56.20,219.81 56.54,219.31 56.87,219.55 57.20,219.57 57.53,218.99 57.86,219.50 58.19,218.88 58.52,219.21 58.85,218.55 59.18,218.64 59.51,218.30 59.84,218.62 60.17,219.10 60.50,219.03 60.84,218.57 61.17,218.24 61.50,218.16 61.83,219.08 62.16,218.93 62.49,219.88 62.82,220.21 63.15,220.10 63.48,220.23 63.81,220.63 64.14,220.37 64.47,219.23 64.81,219.80 65.14,220.19 65.47,218.26 65.80,218.90 66.13,218.88 66.46,218.42 66.79,219.12 67.12,217.55 67.45,218.98 67.78,218.91 68.11,218.66 68.44,219.07 68.77,218.20 69.11,219.35 69.44,219.06 69.77,218.86 70.10,218.81 70.43,218.23 70.76,218.25 71.09,217.77 71.42,219.04 71.75,218.85 72.08,218.49 72.41,218.87 72.74,218.28 73.07,218.31 73.41,218.40 73.74,218.56 74.07,218.24 74.40,218.88 74.73,218.37 75.06,219.31 75.39,217.42 75.72,217.37 76.05,217.19 76.38,217.76 76.71,218.04 77.04,217.52 77.38,217.92 77.71,217.49 78.04,217.94 78.37,217.34 78.70,217.85 79.03,217.28 79.36,218.54 79.69,218.02 80.02,217.53 80.35,217.86 80.68,218.22 81.01,217.47 81.34,217.82 81.68,217.50 82.01,219.59 82.34,218.06 82.67,218.08 83.00,218.83 83.33,218.76 83.66,218.06 83.99,218.96 84.32,218.77 84.65,217.99 84.98,218.54 85.31,218.22 85.64,218.82 85.98,218.00 86.31,217.90 86.64,218.32 86.97,219.55 87.30,217.92 87.63,217.88 87.96,218.55 88.29,217.39 88.62,218.99 88.95,217.28 89.28,218.30 89.61,217.07 89.94,218.04 90.28,218.35 90.61,217.58 90.94,217.22 91.27,217.55 91.60,217.50 91.93,218.27 92.26,217.95 92.59,217.51 92.92,218.10 93.25,218.37 93.58,218.47 93.91,217.61 94.25,217.85 94.58,218.79 94.91,219.19 95.24,217.61 95.57,218.78 95.90,217.87 96.23,218.45 96.56,219.46 96.89,218.57 97.22,218.81 97.55,218.23 97.88,218.66 98.21,220.42 98.55,220.42 98.88,221.29 99.21,223.54 99.54,225.51 99.87,225.99 100.20,228.38 100.53,229.45 100.86,231.08 101.19,232.31 101.52,233.88 101.85,234.30 102.18,235.31 102.51,237.51 102.85,239.09 103.18,239.16 103.51,240.24 103.84,240.69 104.17,240.25 104.50,240.43 104.83,241.90 105.16,243.03 105.49,242.17 105.82,243.75 106.15,243.26 106.48,242.39 106.82,242.96 107.15,243.92 107.48,244.38 107.81,243.11 108.14,243.76 108.47,244.02 108.80,243.80 109.13,244.02 109.46,244.79 109.79,243.53 110.12,244.06 110.45,244.07 110.78,244.08 111.12,243.33 111.45,243.73 111.78,243.13 112.11,243.34 112.44,242.65 112.77,243.14 113.10,243.44 113.43,244.02 113.76,243.62 114.09,242.85 114.42,242.24 114.75,244.24 115.08,244.25 115.42,243.42 115.75,243.55 116.08,244.13 116.41,243.82 116.74,244.62 117.07,244.23 117.40,243.49 117.73,243.28 118.06,244.38 118.39,244.16 118.72,244.13 119.05,243.73 119.38,243.87 119.72,244.50 120.05,244.01 120.38,243.79 120.71,244.54 121.04,244.79 121.37,243.98 121.70,244.01 122.03,243.46 122.36,243.92 122.69,243.89 123.02,243.86 123.35,244.23 123.69,243.92 124.02,243.83 124.35,243.71 124.68,243.04 125.01,243.81 125.34,243.43 125.67,243.56 126.00,242.56 126.33,243.10 126.66,243.41 126.99,242.85 127.32,243.40 127.65,243.77 127.99,242.71 128.32,243.26 128.65,243.06 128.98,243.34 129.31,243.51 129.64,243.63 129.97,244.32 130.30,243.50 130.63,243.96 130.96,243.70 131.29,243.92 131.62,244.37 131.95,244.68 132.29,243.95 132.62,243.26 132.95,244.13 133.28,243.71 133.61,243.63 133.94,244.78 134.27,244.32 134.60,244.85 134.93,243.65 135.26,244.16 135.59,244.37 135.92,244.62 136.26,244.17 136.59,244.04 136.92,244.31 137.25,244.36 137.58,243.90 137.91,244.58 138.24,244.39 138.57,243.88 138.90,244.52 139.23,244.43 139.56,243.98 139.89,244.30 140.22,243.84 140.56,243.57 140.89,243.73 141.22,244.37 141.55,244.29 141.88,243.88 142.21,243.57 142.54,243.74 142.87,245.21 143.20,244.42 143.53,244.60 143.86,244.98 144.19,245.11 144.52,244.94 144.86,244.50 145.19,245.61 145.52,244.84 145.85,245.15 146.18,244.87 146.51,244.16 146.84,244.20 147.17,245.23 147.50,244.97 147.83,245.04 148.16,245.53 148.49,244.65 148.83,245.14 149.16,245.11 149.49,244.90 149.82,244.52 150.15,245.44 150.48,245.67 150.81,244.79 151.14,245.70 151.47,245.92 151.80,246.41 152.13,245.98 152.46,246.33 152.79,246.44 153.13,246.92 153.46,247.38 153.79,247.29 154.12,247.54 154.45,247.16 154.78,247.07 155.11,246.42 155.44,247.40 155.77,247.26 156.10,247.17 156.43,246.03 156.76,247.07 157.09,246.11 157.43,245.78 157.76,246.72 158.09,246.39 158.42,247.56 158.75,247.06 159.08,247.57 159.41,246.69 159.74,246.78 160.07,246.98 160.40,246.30 160.73,246.72 161.06,247.04 161.39,247.03 161.73,247.44 162.06,246.76 162.39,245.72 162.72,246.94 163.05,246.11 163.38,246.38 163.71,245.60 164.04,245.65 164.37,245.84 164.70,246.39 165.03,245.70 165.36,244.49 165.70,244.94 166.03,244.39 166.36,244.86 166.69,245.24 167.02,244.08 167.35,244.15 167.68,244.38 168.01,244.21 168.34,243.84 168.67,243.95 169.00,243.48 169.33,243.96 169.66,245.09 170.00,243.86 170.33,243.93 170.66,244.06 170.99,243.59 171.32,244.10 171.65,243.81 171.98,243.86 172.31,244.38 172.64,245.40 172.97,245.02 173.30,244.40 173.63,244.93 173.96,245.58 174.30,245.34 174.63,245.18 174.96,245.37 175.29,245.07 175.62,245.72 175.95,245.55 176.28,245.50 176.61,245.53 176.94,246.51 177.27,245.69 177.60,246.20 177.93,245.09 178.27,245.11 178.60,244.74 178.93,245.30 179.26,246.01 179.59,245.29 179.92,245.61 180.25,245.20 180.58,245.88 180.91,245.93 181.24,245.06 181.57,244.43 181.90,245.17 182.23,244.07 182.57,244.00 182.90,245.92 183.23,245.31 183.56,245.86 183.89,245.48 184.22,245.79 184.55,245.50 184.88,245.03 185.21,245.81 185.54,245.99 185.87,246.27 186.20,246.30 186.53,246.23 186.87,245.94 187.20,246.16 187.53,245.98 187.86,246.79 188.19,245.89 188.52,245.48 188.85,245.89 189.18,246.33 189.51,245.42 189.84,246.03 190.17,247.09 190.50,246.24 190.84,245.74 191.17,245.83 191.50,245.16 191.83,245.62 192.16,245.77 192.49,246.86 192.82,246.72 193.15,246.11 193.48,245.68 193.81,246.41 194.14,246.32 194.47,245.79 194.80,247.01 195.14,247.10 195.47,246.56 195.80,246.20 196.13,246.49 196.46,246.93 196.79,246.10 197.12,246.79 197.45,246.00 197.78,246.43 198.11,246.13 198.44,245.80 198.77,246.28 199.10,245.72 199.44,245.46 199.77,245.97 200.10,245.75 200.43,246.67 200.76,245.71 201.09,245.77 201.42,246.27 201.75,245.71 202.08,246.14 202.41,246.39 202.74,246.12 203.07,246.07 203.40,246.81 203.74,246.46 204.07,247.14 204.40,246.61 204.73,246.09 205.06,246.45 205.39,246.54 205.72,246.82 206.05,246.87 206.38,246.26 206.71,246.76 207.04,246.36 207.37,245.44 207.71,246.40 208.04,245.09 208.37,246.72 208.70,246.09 209.03,246.73 209.36,246.39 209.69,247.25 210.02,246.98 210.35,247.15 210.68,247.25 211.01,246.69 211.34,246.25 211.67,247.30 212.01,246.77 212.34,246.86 212.67,246.68 213.00,246.03 213.33,247.76 213.66,247.29 213.99,247.57 214.32,246.87 214.65,246.85 214.98,245.10 215.31,246.61 215.64,245.93 215.97,246.10 216.31,246.75 216.64,246.50 216.97,245.66 217.30,246.49 217.63,246.05 217.96,246.04 218.29,247.05 218.62,246.83 218.95,246.51 219.28,246.47 219.61,246.83 219.94,246.47 220.28,246.32 220.61,246.09 220.94,245.80 221.27,245.81 221.60,245.70 221.93,246.00 222.26,245.89 222.59,245.38 222.92,246.01 223.25,245.17 223.58,245.85 223.91,245.97 224.24,245.61 224.58,246.67 224.91,246.64 225.24,246.60 225.57,246.39 225.90,245.37 226.23,247.31 226.56,246.23 226.89,246.47 227.22,246.11 227.55,246.62 227.88,247.47 228.21,245.60 228.54,246.11 228.88,245.67 229.21,246.49 229.54,246.35 229.87,246.07 230.20,245.64 230.53,245.82 230.86,246.35 231.19,245.56 231.52,246.03 231.85,245.99 232.18,246.15 232.51,246.36 232.84,247.06 233.18,246.59 233.51,246.59 233.84,246.87 234.17,247.44 234.50,245.89 234.83,247.00 235.16,246.57 235.49,246.81 235.82,246.27 236.15,247.87 236.48,245.83 236.81,246.68 237.15,247.03 237.48,246.52 237.81,245.57 238.14,246.04 238.47,246.76 238.80,246.49 239.13,245.63 239.46,246.78 239.79,246.25 240.12,246.01 240.45,244.92 240.78,245.94 241.11,245.31 241.45,246.13 241.78,246.13 242.11,245.51 242.44,245.99 242.77,246.94 243.10,245.96 243.43,245.78 243.76,246.32 244.09,245.97 244.42,245.83 244.75,246.50 245.08,246.52 245.41,246.49 245.75,246.29 246.08,246.71 246.41,246.02 246.74,246.42 247.07,245.55 247.40,245.73 247.73,246.11 248.06,245.22 248.39,244.64 248.72,244.44 249.05,245.67 249.38,244.49 249.72,244.92 250.05,244.83 250.38,245.21 250.71,244.99 251.04,244.60 251.37,245.06 251.70,245.52 252.03,245.82 252.36,245.98 252.69,245.96 253.02,245.31 253.35,246.61 253.68,246.18 254.02,246.32 254.35,246.38 254.68,246.06 255.01,245.64 255.34,246.47 255.67,246.22 256.00,244.92 256.33,245.35 256.66,244.98 256.99,245.64 257.32,245.44 257.65,245.10 257.98,245.72 258.32,245.84 258.65,245.14 258.98,245.11 259.31,245.76 259.64,244.93 259.97,244.97 260.30,245.36 260.63,245.06 260.96,245.00 261.29,244.95 261.62,244.87 261.95,245.59 262.29,245.69 262.62,244.75 262.95,245.24 263.28,245.36 263.61,245.25 263.94,244.93 264.27,246.38 264.60,245.32 264.93,246.15 265.26,245.36 265.59,245.32 265.92,246.42 266.25,245.82 266.59,246.11 266.92,246.26 267.25,245.98 267.58,246.48 267.91,246.88 268.24,245.95 268.57,245.80 268.90,246.50 269.23,247.10 269.56,245.07 269.89,245.70 270.22,245.86 270.55,246.53 270.89,246.12 271.22,245.68 271.55,246.51 271.88,244.98 272.21,246.04 272.54,246.11 272.87,246.83 273.20,246.41 273.53,246.74 273.86,246.45 274.19,246.69 274.52,246.64 274.85,245.99 275.19,245.91 275.52,245.15 275.85,245.92 276.18,246.31 276.51,245.87 276.84,245.08 277.17,246.16 277.50,245.85 277.83,246.00 278.16,245.87 278.49,245.83 278.82,246.53 279.16,246.56 279.49,246.17 279.82,246.16 280.15,246.09 280.48,246.04 280.81,246.75 281.14,246.66 281.47,245.79 281.80,246.55 282.13,245.89 282.46,246.77 282.79,245.92 283.12,246.00 283.46,246.36 283.79,245.75 284.12,246.15 284.45,245.82 284.78,245.45 285.11,245.65 285.44,244.80 285.77,245.89 286.10,245.74 286.43,246.69 286.76,246.64 287.09,246.78 287.42,246.60 287.76,246.61 288.09,246.64 288.42,246.07 288.75,246.81 289.08,247.11 289.41,247.23 289.74,245.67 290.07,246.02 290.40,246.14 290.73,246.01 291.06,246.31 291.39,246.06 291.73,245.91 292.06,245.63 292.39,246.06 292.72,246.09 293.05,245.41 293.38,245.62 293.71,246.83 294.04,245.91 294.37,245.48 294.70,246.33 295.03,246.10 295.36,246.87 295.69,245.83 296.03,246.54 296.36,246.55 296.69,246.26 297.02,244.97 297.35,246.22 297.68,246.48 298.01,245.68 298.34,245.90 298.67,245.48 299.00,247.07 299.33,247.19 299.66,246.51 299.99,246.53 300.33,246.63 300.66,246.30 300.99,247.45 301.32,247.22 301.65,246.94 301.98,246.50 302.31,246.89 302.64,247.08 302.97,247.05 303.30,246.57 303.63,246.61 303.96,245.73 304.30,247.03 304.63,246.15 304.96,247.48 305.29,247.22 305.62,247.31 305.95,247.26 306.28,246.84 306.61,246.48 306.94,246.31 307.27,246.21 307.60,245.77 307.93,246.02 308.26,246.10 308.60,245.64 308.93,245.84 309.26,245.63 309.59,245.85 309.92,245.99 310.25,246.17 310.58,246.98 310.91,245.99 311.24,245.80 311.57,246.24 311.90,247.00 312.23,247.31 312.56,246.68 312.90,246.74 313.23,246.51 313.56,246.75 313.89,246.72 314.22,245.80 314.55,246.96 314.88,246.15 315.21,246.11 315.54,247.01 315.87,246.31 316.20,246.59 316.53,247.04 316.86,247.39 317.20,247.12 317.53,246.45 317.86,246.68 318.19,246.59 318.52,246.48 318.85,244.21 319.18,242.08 319.51,240.19 319.84,237.87 320.17,234.68 320.50,232.09 320.83,230.00 321.17,227.38 321.50,224.36 321.83,221.57 322.16,220.21 322.49,216.73 322.82,213.08 323.15,211.81 323.48,210.37 323.81,211.36 324.14,209.04 324.47,208.81 324.80,209.16 325.13,207.44 325.47,206.47 325.80,206.09 326.13,205.88 326.46,206.92 326.79,207.47 327.12,207.32 327.45,207.13 327.78,206.90 328.11,207.19 328.44,207.09 328.77,206.68 329.10,206.82 329.43,206.28 329.77,205.88 330.10,207.56 330.43,206.99 330.76,207.29 331.09,207.26 331.42,206.31 331.75,207.00 332.08,207.18 332.41,206.77 332.74,206.54 333.07,206.96 333.40,206.84 333.74,206.56 334.07,206.58 334.40,206.73 334.73,206.19 335.06,207.08 335.39,206.44 335.72,206.65 336.05,205.76 336.38,206.03 336.71,206.29 337.04,205.31 337.37,206.34 337.70,205.17 338.04,205.77 338.37,206.25 338.70,206.77 339.03,206.56 339.36,206.75 339.69,207.00 340.02,206.15 340.35,206.91 340.68,206.47 341.01,206.39 341.34,207.05 341.67,206.02 342.00,206.62 342.34,207.17 342.67,206.07 343.00,205.35 343.33,204.91 343.66,206.04 343.99,205.30 344.32,205.32 344.65,205.48 344.98,205.28 345.31,205.88 345.64,206.50 345.97,206.17 346.31,205.98 346.64,206.61 346.97,207.14 347.30,207.80 347.63,206.59 347.96,207.04 348.29,207.81 348.62,207.27 348.95,207.08 349.28,207.27 349.61,206.73 349.94,206.59 350.27,207.30 350.61,206.58 350.94,206.19 351.27,205.75 351.60,205.29 351.93,206.41 352.26,205.46 352.59,204.95 352.92,204.92 353.25,204.98 353.58,206.13 353.91,205.75 354.24,206.31 354.57,205.49 354.91,206.51 355.24,205.55 355.57,206.08 355.90,206.30 356.23,207.48 356.56,207.04 356.89,206.23 357.22,207.05 357.55,206.51 357.88,206.71 358.21,206.44 358.54,206.83 358.87,206.62 359.21,206.99 359.54,206.62 359.87,206.94 360.20,206.71 360.53,206.95 360.86,206.76 361.19,208.40 361.52,207.04 361.85,207.39 362.18,206.74 362.51,206.99 362.84,206.74 363.18,206.62 363.51,207.50 363.84,206.92 364.17,207.05 364.50,206.98 364.83,207.37 365.16,206.39 365.49,206.67 365.82,207.01 366.15,206.84 366.48,207.49 366.81,206.56 367.14,206.56 367.48,206.13 367.81,207.49 368.14,207.73 368.47,207.09 368.80,207.94 369.13,206.92 369.46,206.99 369.79,206.74 370.12,206.29 370.45,206.43 370.78,205.31 371.11,206.04 371.44,206.52 371.78,205.48 372.11,206.14 372.44,205.41 372.77,206.05 373.10,206.12 373.43,205.41 373.76,206.40 374.09,206.49 374.42,206.52 374.75,206.38 375.08,205.72 375.41,206.59 375.75,206.68 376.08,205.87 376.41,206.75 376.74,206.65 377.07,205.93 377.40,206.17 377.73,206.54 378.06,206.50 378.39,206.69 378.72,206.73 379.05,206.21 379.38,206.42 379.71,206.50 380.05,207.43 380.38,207.75 380.71,206.69 381.04,207.29 381.37,206.84 381.70,206.38 382.03,206.84 382.36,206.77 382.69,206.08 383.02,206.79 383.35,206.19 383.68,205.98 384.01,205.61 384.35,205.81 384.68,205.05 385.01,206.06 385.34,206.01 385.67,206.10 386.00,206.39 386.33,206.58 386.66,205.71 386.99,206.33 387.32,206.66 387.65,206.44 387.98,207.09 388.31,206.70 388.65,206.82 388.98,207.40 389.31,206.85 389.64,207.55 389.97,206.39 390.30,206.92 390.63,206.19 390.96,205.47 391.29,205.50 391.62,206.07 391.95,205.91 392.28,206.26 392.62,206.58 392.95,206.63 393.28,206.08 393.61,206.35 393.94,207.38 394.27,206.63 394.60,206.71 394.93,207.43 395.26,208.14 395.59,206.97 395.92,207.88 396.25,207.02 396.58,207.01 396.92,208.51 397.25,207.55 397.58,207.43 397.91,207.68 398.24,208.19 398.57,207.89 398.90,207.77 399.23,206.94 399.56,206.88 399.89,207.48 400.22,207.60 400.55,206.94 400.88,206.72 401.22,206.60 401.55,206.49 401.88,206.13 402.21,206.64 402.54,206.99 402.87,205.87 403.20,205.75 403.53,207.20 403.86,206.97 404.19,206.54 404.52,206.23 404.85,206.16 405.19,205.96 405.52,206.80 405.85,206.60 406.18,206.49 406.51,207.11 406.84,206.38 407.17,206.31 407.50,205.88 407.83,206.39 408.16,206.05 408.49,206.84 408.82,206.27 409.15,207.49 409.49,206.74 409.82,206.26 410.15,206.95 410.48,206.63 410.81,207.31 411.14,206.28 411.47,206.55 411.80,206.81 412.13,206.18 412.46,206.53 412.79,206.10 413.12,206.48 413.45,207.14 413.79,206.63 414.12,205.98 414.45,206.20 414.78,206.96 415.11,206.54 415.44,206.91 415.77,206.82 416.10,207.84 416.43,207.56 416.76,207.17 417.09,207.82 417.42,207.38 417.76,206.59 418.09,207.53 418.42,207.32 418.75,207.60 419.08,207.27 419.41,207.03 419.74,207.44 420.07,208.04 420.40,206.60 420.73,207.35 421.06,206.73 421.39,207.39 421.72,207.16 422.06,206.72 422.39,206.76 422.72,207.50 423.05,206.53 423.38,207.29 423.71,206.94 424.04,205.60 424.37,206.46 424.70,205.43 425.03,206.17 425.36,205.82 425.69,206.30 426.02,206.24 426.36,206.76 426.69,206.78 427.02,206.30 427.35,207.26 427.68,206.88 428.01,206.21 428.34,206.66 428.67,206.52 429.00,206.55 429.33,205.77 429.66,205.87 429.99,205.72 430.32,205.93 430.66,204.62 430.99,205.61 431.32,206.26 431.65,205.12 431.98,205.45 432.31,205.54 432.64,206.56 432.97,205.66 433.30,206.45 433.63,206.49 433.96,206.99 434.29,205.91 434.63,206.52 434.96,205.87 435.29,206.93 435.62,207.37 435.95,206.52 436.28,207.00 436.61,206.34 436.94,206.87 437.27,206.35 437.60,206.45 437.93,206.62 438.26,207.05 438.59,207.11 438.93,206.73 439.26,206.68 439.59,206.48 439.92,206.77 440.25,207.19 440.58,206.52 440.91,205.69 441.24,206.05 441.57,205.78 441.90,205.83 442.23,206.14 442.56,206.75 442.89,206.07 443.23,206.03 443.56,206.45 443.89,206.36 444.22,206.50 444.55,206.91 444.88,207.16 445.21,207.29 445.54,207.15 445.87,207.62 446.20,207.41 446.53,206.64 446.86,206.73 447.20,207.38 447.53,206.07 447.86,207.11 448.19,205.68 448.52,205.76 448.85,205.74 449.18,206.17 449.51,206.09 449.84,205.65 450.17,205.79 450.50,206.26 450.83,205.98 451.16,205.98 451.50,205.88 451.83,206.58 452.16,207.21 452.49,206.09 452.82,206.29 453.15,206.09 453.48,205.71 453.81,205.83 454.14,206.42 454.47,206.25 454.80,206.02 455.13,206.62 455.46,206.48 455.80,206.39 456.13,206.48 456.46,206.65 456.79,206.77 457.12,206.18 457.45,206.62 457.78,205.95 458.11,206.29 458.44,205.31 458.77,205.50 459.10,206.77 459.43,206.01 459.77,206.72 460.10,205.87 460.43,206.45 460.76,206.67 461.09,206.60 461.42,207.19 461.75,206.62 462.08,206.58 462.41,206.93 462.74,206.69 463.07,207.11 463.40,206.46 463.73,207.16 464.07,206.46 464.40,206.53 464.73,206.35 465.06,206.81 465.39,205.48 465.72,207.25 466.05,207.46 466.38,207.66 466.71,206.55 467.04,207.28 467.37,206.63 467.70,207.28 468.03,206.73 468.37,207.06 468.70,206.78 469.03,207.46 469.36,207.56 469.69,206.73 470.02,206.84 470.35,206.91 470.68,206.27 471.01,207.52 471.34,206.53 471.67,207.41 472.00,207.72 472.33,207.40 472.67,207.07 473.00,207.49 473.33,207.26 473.66,206.99 473.99,207.16 474.32,207.56 474.65,207.79 474.98,208.12 475.31,207.86 475.64,207.03 475.97,207.07 476.30,207.21 476.64,206.61 476.97,207.40 477.30,207.29 477.63,207.17 477.96,206.26 478.29,207.80 478.62,206.80 478.95,206.45 479.28,206.74 479.61,205.81 479.94,206.11 480.27,206.04 480.60,206.79 480.94,206.13 481.27,206.61 481.60,206.67 481.93,206.79 482.26,206.92 482.59,206.67 482.92,206.26 483.25,206.59 483.58,206.93 483.91,208.01 484.24,206.37 484.57,206.53 484.90,207.17 485.24,207.14 485.57,206.38 485.90,207.08 486.23,206.52 486.56,207.10 486.89,207.22 487.22,206.53 487.55,207.24 487.88,206.64 488.21,206.87 488.54,207.56 488.87,206.67 489.21,207.12 489.54,206.87 489.87,206.82 490.20,207.01 490.53,207.17 490.86,207.31 491.19,207.01 491.52,206.92 491.85,205.76 492.18,205.95 492.51,206.91 492.84,205.82 493.17,206.14 493.51,206.42 493.84,206.03 494.17,206.05 494.50,206.53 494.83,206.53 495.16,206.18 495.49,206.88 495.82,206.37 496.15,206.52 496.48,206.78 496.81,206.81 497.14,206.81 497.47,206.44 497.81,206.57 498.14,207.21 498.47,206.63 498.80,206.71 499.13,206.71 499.46,206.20 499.79,207.13 500.12,206.89 500.45,207.16 500.78,207.35 501.11,205.71 501.44,206.07 501.77,207.31 502.11,206.07 502.44,206.48 502.77,206.06 503.10,206.39 503.43,206.70 503.76,206.74 504.09,206.36 504.42,206.62 504.75,206.59 505.08,206.94 505.41,206.78 505.74,207.39 506.08,207.11 506.41,207.43 506.74,207.50 507.07,207.05 507.40,207.88 507.73,207.29 508.06,207.53 508.39,206.80 508.72,207.25 509.05,206.98 509.38,206.78 509.71,207.49 510.04,206.24 510.38,206.33 510.71,206.05 511.04,205.79 511.37,205.42 511.70,205.29 512.03,205.07 512.36,205.71 512.69,205.87 513.02,205.69 513.35,205.08 513.68,204.96 514.01,205.78 514.34,206.35 514.68,206.09 515.01,206.54 515.34,206.37 515.67,206.81 516.00,207.61 516.33,206.87 516.66,206.47 516.99,206.66 517.32,207.86 517.65,206.78 517.98,207.52 518.31,205.85 518.65,206.53 518.98,206.75 519.31,206.00 519.64,206.56 519.97,206.03 520.30,206.06 520.63,206.49 520.96,205.89 521.29,206.71 521.62,205.63 521.95,206.27 522.28,206.60 522.61,207.03 522.95,205.86 523.28,205.89 523.61,207.00 523.94,205.67 524.27,206.27 524.60,206.50 524.93,206.48 525.26,206.40 525.59,205.50 525.92,205.96 526.25,206.95 526.58,205.45 526.91,205.74 527.25,206.58 527.58,206.26 527.91,206.18 528.24,205.75 528.57,205.36 528.90,205.55 529.23,205.88 529.56,205.95 529.89,205.10 530.22,205.37 530.55,204.11 530.88,205.22 531.22,204.70 531.55,205.06 531.88,205.52 532.21,204.79 532.54,205.58 532.87,205.80 533.20,205.70 533.53,205.17 533.86,206.20 534.19,205.30 534.52,205.60 534.85,206.05 535.18,205.32 535.52,205.28 535.85,206.05 536.18,206.01 536.51,204.90 536.84,205.28 537.17,206.20 537.50,205.86"/>
<polyline clip-path="url(#c3)" fill="none" stroke="#0000ff" stroke-width="2.2" stroke-linejoin="round" stroke-linecap="round"  points="41.65,294.99 537.50,294.99"/>
<polyline clip-path="url(#c3)" fill="none" stroke="#ff0000" stroke-width="2.4" stroke-linejoin="round" stroke-linecap="round"  points="41.65,341.30 41.86,340.89 41.98,340.66 42.07,340.48 42.29,340.07 42.31,340.02 42.50,339.67 42.64,339.40 42.71,339.27 42.92,338.88 42.97,338.78 43.13,338.49 43.30,338.18 43.35,338.10 43.56,337.72 43.63,337.58 43.77,337.34 43.97,336.99 43.98,336.96 44.19,336.59 44.30,336.41 44.40,336.22 44.62,335.85 44.63,335.83 44.83,335.49 44.96,335.27 45.04,335.13 45.25,334.77 45.29,334.71 45.46,334.41 45.62,334.16 45.68,334.06 45.89,333.71 45.95,333.61 46.10,333.37 46.28,333.08 46.31,333.03 46.52,332.69 46.61,332.55 46.74,332.35 46.94,332.03 46.95,332.02 47.16,331.69 47.27,331.52 47.37,331.36 47.58,331.04 47.60,331.01 47.80,330.72 47.93,330.51 48.01,330.40 48.22,330.09 48.27,330.02 48.43,329.77 48.60,329.53 48.64,329.46 48.85,329.16 48.93,329.05 49.07,328.85 49.26,328.58 49.28,328.55 49.49,328.25 49.59,328.11 49.70,327.96 49.91,327.66 49.92,327.66 50.25,327.20 50.58,326.76 50.91,326.32 51.24,325.88 51.57,325.45 51.90,325.03 52.24,324.61 52.57,324.20 52.90,323.80 53.23,323.40 53.56,323.01 53.89,322.62 54.22,322.23 54.55,321.86 54.88,321.48 55.21,321.12 55.54,320.75 55.87,320.40 56.20,320.04 56.54,319.70 56.87,319.35 57.20,319.02 57.53,318.68 57.86,318.36 58.19,318.03 58.52,317.71 58.85,317.40 59.18,317.09 59.51,316.78 59.84,316.48 60.17,316.18 60.50,315.89 60.84,315.60 61.17,315.31 61.50,315.03 61.83,314.75 62.16,314.48 62.49,314.21 62.82,313.94 63.15,313.68 63.48,313.42 63.81,313.16 64.14,312.91 64.47,312.66 64.81,312.42 65.14,312.18 65.47,311.94 65.80,311.70 66.13,311.47 66.46,311.24 66.79,311.02 67.12,310.80 67.45,310.58 67.78,310.36 68.11,310.15 68.44,309.94 68.77,309.73 69.11,309.53 69.44,309.32 69.77,309.13 70.10,308.93 70.43,308.74 70.76,308.55 71.09,308.36 71.42,308.17 71.75,307.99 72.08,307.81 72.41,307.63 72.74,307.46 73.07,307.28 73.41,307.11 73.74,306.95 74.07,306.78 74.40,306.62 74.73,306.46 75.06,306.30 75.39,306.14 75.72,305.99 76.05,305.83 76.38,305.68 76.71,305.53 77.04,305.39 77.38,305.24 77.71,305.10 78.04,304.96 78.37,304.82 78.70,304.69 79.03,304.55 79.36,304.42 79.69,304.29 80.02,304.16 80.35,304.03 80.68,303.91 81.01,303.78 81.34,303.66 81.68,303.54 82.01,303.42 82.34,303.31 82.67,303.19 83.00,303.08 83.33,302.97 83.66,302.86 83.99,302.75 84.32,302.64 84.65,302.53 84.98,302.43 85.31,302.33 85.64,302.22 85.98,302.12 86.31,302.02 86.64,301.93 86.97,301.83 87.30,301.74 87.63,301.64 87.96,301.55 88.29,301.46 88.62,301.37 88.95,301.28 89.28,301.19 89.61,301.11 89.94,301.02 90.28,300.94 90.61,300.86 90.94,300.78 91.27,300.70 91.60,300.62 91.93,300.54 92.26,300.46 92.59,300.39 92.92,300.31 93.25,300.24 93.58,300.17 93.91,300.09 94.25,300.02 94.58,299.95 94.91,299.88 95.24,299.82 95.57,299.75 95.90,299.68 96.23,299.62 96.56,299.55 96.89,299.49 97.22,299.43 97.55,299.37 97.88,299.31 98.21,299.25 98.55,299.19 98.88,299.13 99.21,299.07 99.54,299.02 99.87,298.96 100.20,298.91 100.53,298.85 100.86,298.80 101.19,298.74 101.52,298.69 101.85,298.64 102.18,298.59 102.51,298.54 102.85,298.49 103.18,298.44 103.51,298.40 103.84,298.35 104.17,298.30 104.50,298.26 104.83,298.21 105.16,298.17 105.49,298.12 105.82,298.08 106.15,298.04 106.48,297.99 106.82,297.95 107.15,297.91 107.48,297.87 107.81,297.83 108.14,297.79 108.47,297.75 108.80,297.71 109.13,297.68 109.46,297.64 109.79,297.60 110.12,297.57 110.45,297.53 110.78,297.50 111.12,297.46 111.45,297.43 111.78,297.39 112.11,297.36 112.44,297.33 112.77,297.29 113.10,297.26 113.43,297.23 113.76,297.20 114.09,297.17 114.42,297.14 114.75,297.11 115.08,297.08 115.42,297.05 115.75,297.02 116.08,296.99 116.41,296.97 116.74,296.94 117.07,296.91 117.40,296.89 117.73,296.86 118.06,296.83 118.39,296.81 118.72,296.78 119.05,296.76 119.38,296.73 119.72,296.71 120.05,296.69 120.38,296.66 120.71,296.64 121.04,296.62 121.37,296.59 121.70,296.57 122.03,296.55 122.36,296.53 122.69,296.51 123.02,296.49 123.35,296.47 123.69,296.45 124.02,296.43 124.35,296.41 124.68,296.39 125.01,296.37 125.34,296.35 125.67,296.33 126.00,296.31 126.33,296.29 126.66,296.27 126.99,296.26 127.32,296.24 127.65,296.22 127.99,296.20 128.32,296.19 128.65,296.17 128.98,296.15 129.31,296.14 129.64,296.12 129.97,296.11 130.30,296.09 130.63,296.08 130.96,296.06 131.29,296.05 131.62,296.03 131.95,296.02 132.29,296.00 132.62,295.99 132.95,295.98 133.28,295.96 133.61,295.95 133.94,295.94 134.27,295.92 134.60,295.91 134.93,295.90 135.26,295.88 135.59,295.87 135.92,295.86 136.26,295.85 136.59,295.84 136.92,295.82 137.25,295.81 137.58,295.80 137.91,295.79 138.24,295.78 138.57,295.77 138.90,295.76 139.23,295.75 139.56,295.74 139.89,295.73 140.22,295.72 140.56,295.71"/>
<polyline clip-path="url(#c3)" fill="none" stroke="#ff0000" stroke-width="2.4" stroke-linejoin="round" stroke-linecap="butt" stroke-dasharray="4 0.45" points="140.89,295.70 141.22,295.69 141.55,295.68 141.88,295.67 142.21,295.66 142.54,295.65 142.87,295.64 143.20,295.63 143.53,295.62 143.86,295.61 144.19,295.60 144.52,295.60 144.86,295.59 145.19,295.58 145.52,295.57 145.85,295.56 146.18,295.56 146.51,295.55 146.84,295.54 147.17,295.53 147.50,295.53 147.83,295.52 148.16,295.51 148.49,295.50 148.83,295.50 149.16,295.49 149.49,295.48 149.82,295.48 150.15,295.47 150.48,295.46 150.81,295.46 151.14,295.45 151.47,295.44 151.80,295.44 152.13,295.43 152.46,295.42 152.79,295.42 153.13,295.41 153.46,295.41 153.79,295.40 154.12,295.40 154.45,295.39 154.78,295.38 155.11,295.38 155.44,295.37 155.77,295.37 156.10,295.36 156.43,295.36 156.76,295.35 157.09,295.35 157.43,295.34 157.76,295.34 158.09,295.33 158.42,295.33 158.75,295.32 159.08,295.32 159.41,295.32 159.74,295.31 160.07,295.31 160.40,295.30 160.73,295.30 161.06,295.29 161.39,295.29 161.73,295.29 162.06,295.28 162.39,295.28 162.72,295.27 163.05,295.27 163.38,295.27 163.71,295.26 164.04,295.26 164.37,295.25 164.70,295.25 165.03,295.25 165.36,295.24 165.70,295.24 166.03,295.24 166.36,295.23 166.69,295.23 167.02,295.23 167.35,295.22 167.68,295.22 168.01,295.22 168.34,295.21 168.67,295.21 169.00,295.21 169.33,295.21 169.66,295.20 170.00,295.20 170.33,295.20 170.66,295.19 170.99,295.19 171.32,295.19 171.65,295.19 171.98,295.18 172.31,295.18 172.64,295.18 172.97,295.18 173.30,295.17 173.63,295.17 173.96,295.17 174.30,295.17 174.63,295.16 174.96,295.16 175.29,295.16 175.62,295.16 175.95,295.15 176.28,295.15 176.61,295.15 176.94,295.15 177.27,295.15 177.60,295.14 177.93,295.14 178.27,295.14 178.60,295.14 178.93,295.13 179.26,295.13 179.59,295.13 179.92,295.13 180.25,295.13 180.58,295.13 180.91,295.12 181.24,295.12 181.57,295.12 181.90,295.12 182.23,295.12 182.57,295.11 182.90,295.11 183.23,295.11 183.56,295.11 183.89,295.11 184.22,295.11 184.55,295.11 184.88,295.10 185.21,295.10 185.54,295.10 185.87,295.10 186.20,295.10 186.53,295.10 186.87,295.09 187.20,295.09 187.53,295.09 187.86,295.09 188.19,295.09 188.52,295.09 188.85,295.09 189.18,295.09 189.51,295.08 189.84,295.08 190.17,295.08 190.50,295.08 190.84,295.08 191.17,295.08 191.50,295.08 191.83,295.08 192.16,295.07 192.49,295.07 192.82,295.07 193.15,295.07 193.48,295.07 193.81,295.07 194.14,295.07 194.47,295.07 194.80,295.07 195.14,295.07 195.47,295.06 195.80,295.06 196.13,295.06 196.46,295.06 196.79,295.06 197.12,295.06 197.45,295.06 197.78,295.06 198.11,295.06 198.44,295.06 198.77,295.05 199.10,295.05 199.44,295.05 199.77,295.05 200.10,295.05 200.43,295.05 200.76,295.05 201.09,295.05 201.42,295.05 201.75,295.05 202.08,295.05 202.41,295.05 202.74,295.05 203.07,295.04 203.40,295.04 203.74,295.04 204.07,295.04 204.40,295.04 204.73,295.04 205.06,295.04 205.39,295.04 205.72,295.04 206.05,295.04 206.38,295.04 206.71,295.04 207.04,295.04 207.37,295.04 207.71,295.04 208.04,295.04 208.37,295.03 208.70,295.03 209.03,295.03 209.36,295.03 209.69,295.03 210.02,295.03 210.35,295.03 210.68,295.03 211.01,295.03 211.34,295.03 211.67,295.03 212.01,295.03 212.34,295.03 212.67,295.03 213.00,295.03 213.33,295.03 213.66,295.03 213.99,295.03 214.32,295.03 214.65,295.03 214.98,295.02 215.31,295.02 215.64,295.02 215.97,295.02 216.31,295.02 216.64,295.02 216.97,295.02 217.30,295.02 217.63,295.02 217.96,295.02 218.29,295.02 218.62,295.02 218.95,295.02 219.28,295.02 219.61,295.02 219.94,295.02 220.28,295.02 220.61,295.02 220.94,295.02 221.27,295.02 221.60,295.02 221.93,295.02 222.26,295.02 222.59,295.02 222.92,295.02 223.25,295.02 223.58,295.02 223.91,295.02 224.24,295.01 224.58,295.01 224.91,295.01 225.24,295.01 225.57,295.01 225.90,295.01 226.23,295.01 226.56,295.01 226.89,295.01 227.22,295.01 227.55,295.01 227.88,295.01 228.21,295.01 228.54,295.01 228.88,295.01 229.21,295.01 229.54,295.01 229.87,295.01 230.20,295.01 230.53,295.01 230.86,295.01 231.19,295.01 231.52,295.01 231.85,295.01 232.18,295.01 232.51,295.01 232.84,295.01 233.18,295.01 233.51,295.01 233.84,295.01 234.17,295.01 234.50,295.01 234.83,295.01 235.16,295.01 235.49,295.01 235.82,295.01 236.15,295.01 236.48,295.01 236.81,295.01 237.15,295.01 237.48,295.01 237.81,295.01 238.14,295.01 238.47,295.01 238.80,295.01 239.13,295.01 239.46,295.00 239.79,295.00 240.12,295.00 240.45,295.00 240.78,295.00 241.11,295.00 241.45,295.00 241.78,295.00 242.11,295.00 242.44,295.00 242.77,295.00 243.10,295.00 243.43,295.00 243.76,295.00 244.09,295.00 244.42,295.00 244.75,295.00 245.08,295.00 245.41,295.00 245.75,295.00 246.08,295.00 246.41,295.00 246.74,295.00 247.07,295.00 247.40,295.00 247.73,295.00 248.06,295.00 248.39,295.00 248.72,295.00 249.05,295.00 249.38,295.00 249.72,295.00 250.05,295.00 250.38,295.00 250.71,295.00 251.04,295.00 251.37,295.00 251.70,295.00 252.03,295.00 252.36,295.00 252.69,295.00 253.02,295.00 253.35,295.00 253.68,295.00 254.02,295.00 254.35,295.00 254.68,295.00 255.01,295.00 255.34,295.00 255.67,295.00 256.00,295.00 256.33,295.00 256.66,295.00 256.99,295.00 257.32,295.00 257.65,295.00 257.98,295.00 258.32,295.00 258.65,295.00 258.98,295.00 259.31,295.00 259.64,295.00 259.97,295.00 260.30,295.00 260.63,295.00 260.96,295.00 261.29,295.00 261.62,295.00 261.95,295.00 262.29,295.00 262.62,295.00 262.95,295.00 263.28,295.00 263.61,295.00 263.94,295.00 264.27,295.00 264.60,295.00 264.93,295.00 265.26,295.00 265.59,295.00 265.92,295.00 266.25,295.00 266.59,295.00 266.92,295.00 267.25,295.00 267.58,295.00 267.91,295.00 268.24,295.00 268.57,295.00 268.90,295.00 269.23,295.00 269.56,295.00 269.89,295.00 270.22,295.00 270.55,295.00 270.89,295.00 271.22,295.00 271.55,295.00 271.88,295.00 272.21,295.00 272.54,295.00 272.87,295.00 273.20,295.00 273.53,295.00 273.86,295.00 274.19,295.00 274.52,295.00 274.85,295.00 275.19,295.00 275.52,295.00 275.85,295.00 276.18,295.00 276.51,295.00 276.84,295.00 277.17,295.00 277.50,295.00 277.83,295.00 278.16,295.00 278.49,295.00 278.82,295.00 279.16,295.00 279.49,295.00 279.82,295.00 280.15,295.00 280.48,295.00 280.81,295.00 281.14,295.00 281.47,295.00 281.80,295.00 282.13,295.00 282.46,295.00 282.79,295.00 283.12,295.00 283.46,295.00 283.79,295.00 284.12,295.00 284.45,295.00 284.78,295.00 285.11,295.00 285.44,295.00 285.77,295.00 286.10,295.00 286.43,295.00 286.76,295.00 287.09,295.00 287.42,295.00 287.76,295.00 288.09,295.00 288.42,295.00 288.75,295.00 289.08,295.00 289.41,295.00 289.74,295.00 290.07,295.00 290.40,295.00 290.73,295.00 291.06,295.00 291.39,295.00 291.73,295.00 292.06,295.00 292.39,295.00 292.72,295.00 293.05,295.00 293.38,295.00 293.71,295.00 294.04,295.00 294.37,295.00 294.70,295.00 295.03,295.00 295.36,295.00 295.69,295.00 296.03,295.00 296.36,294.99 296.69,294.99 297.02,294.99 297.35,294.99 297.68,294.99 298.01,294.99 298.34,294.99 298.67,294.99 299.00,294.99 299.33,294.99 299.66,294.99 299.99,294.99 300.33,294.99 300.66,294.99 300.99,294.99 301.32,294.99 301.65,294.99 301.98,294.99 302.31,294.99 302.64,294.99 302.97,294.99 303.30,294.99 303.63,294.99 303.96,294.99 304.30,294.99 304.63,294.99 304.96,294.99 305.29,294.99 305.62,294.99 305.95,294.99 306.28,294.99 306.61,294.99 306.94,294.99 307.27,294.99 307.60,294.99 307.93,294.99 308.26,294.99 308.60,294.99 308.93,294.99 309.26,294.99 309.59,294.99 309.92,294.99 310.25,294.99 310.58,294.99 310.91,294.99 311.24,294.99 311.57,294.99 311.90,294.99 312.23,294.99 312.56,294.99 312.90,294.99 313.23,294.99 313.56,294.99 313.89,294.99 314.22,294.99 314.55,294.99 314.88,294.99 315.21,294.99 315.54,294.99 315.87,294.99 316.20,294.99 316.53,294.99 316.86,294.99 317.20,294.99 317.53,294.99 317.86,294.99 318.19,294.99 318.52,294.99 318.85,294.99 319.18,294.99 319.51,294.99 319.84,294.99 320.17,294.99 320.50,294.99 320.83,294.99 321.17,294.99 321.50,294.99 321.83,294.99 322.16,294.99 322.49,294.99 322.82,294.99 323.15,294.99 323.48,294.99 323.81,294.99 324.14,294.99 324.47,294.99 324.80,294.99 325.13,294.99 325.47,294.99 325.80,294.99 326.13,294.99 326.46,294.99 326.79,294.99 327.12,294.99 327.45,294.99 327.78,294.99 328.11,294.99 328.44,294.99 328.77,294.99 329.10,294.99 329.43,294.99 329.77,294.99 330.10,294.99 330.43,294.99 330.76,294.99 331.09,294.99 331.42,294.99 331.75,294.99 332.08,294.99 332.41,294.99 332.74,294.99 333.07,294.99 333.40,294.99 333.74,294.99 334.07,294.99 334.40,294.99 334.73,294.99 335.06,294.99 335.39,294.99 335.72,294.99 336.05,294.99 336.38,294.99 336.71,294.99 337.04,294.99 337.37,294.99 337.70,294.99 338.04,294.99 338.37,294.99 338.70,294.99 339.03,294.99 339.36,294.99 339.69,294.99 340.02,294.99 340.35,294.99 340.68,294.99 341.01,294.99 341.34,294.99 341.67,294.99 342.00,294.99 342.34,294.99 342.67,294.99 343.00,294.99 343.33,294.99 343.66,294.99 343.99,294.99 344.32,294.99 344.65,294.99 344.98,294.99 345.31,294.99 345.64,294.99 345.97,294.99 346.31,294.99 346.64,294.99 346.97,294.99 347.30,294.99 347.63,294.99 347.96,294.99 348.29,294.99 348.62,294.99 348.95,294.99 349.28,294.99 349.61,294.99 349.94,294.99 350.27,294.99 350.61,294.99 350.94,294.99 351.27,294.99 351.60,294.99 351.93,294.99 352.26,294.99 352.59,294.99 352.92,294.99 353.25,294.99 353.58,294.99 353.91,294.99 354.24,294.99 354.57,294.99 354.91,294.99 355.24,294.99 355.57,294.99 355.90,294.99 356.23,294.99 356.56,294.99 356.89,294.99 357.22,294.99 357.55,294.99 357.88,294.99 358.21,294.99 358.54,294.99 358.87,294.99 359.21,294.99 359.54,294.99 359.87,294.99 360.20,294.99 360.53,294.99 360.86,294.99 361.19,294.99 361.52,294.99 361.85,294.99 362.18,294.99 362.51,294.99 362.84,294.99 363.18,294.99 363.51,294.99 363.84,294.99 364.17,294.99 364.50,294.99 364.83,294.99 365.16,294.99 365.49,294.99 365.82,294.99 366.15,294.99 366.48,294.99 366.81,294.99 367.14,294.99 367.48,294.99 367.81,294.99 368.14,294.99 368.47,294.99 368.80,294.99 369.13,294.99 369.46,294.99 369.79,294.99 370.12,294.99 370.45,294.99 370.78,294.99 371.11,294.99 371.44,294.99 371.78,294.99 372.11,294.99 372.44,294.99 372.77,294.99 373.10,294.99 373.43,294.99 373.76,294.99 374.09,294.99 374.42,294.99 374.75,294.99 375.08,294.99 375.41,294.99 375.75,294.99 376.08,294.99 376.41,294.99 376.74,294.99 377.07,294.99 377.40,294.99 377.73,294.99 378.06,294.99 378.39,294.99 378.72,294.99 379.05,294.99 379.38,294.99 379.71,294.99 380.05,294.99 380.38,294.99 380.71,294.99 381.04,294.99 381.37,294.99 381.70,294.99 382.03,294.99 382.36,294.99 382.69,294.99 383.02,294.99 383.35,294.99 383.68,294.99 384.01,294.99 384.35,294.99 384.68,294.99 385.01,294.99 385.34,294.99 385.67,294.99 386.00,294.99 386.33,294.99 386.66,294.99 386.99,294.99 387.32,294.99 387.65,294.99 387.98,294.99 388.31,294.99 388.65,294.99 388.98,294.99 389.31,294.99 389.64,294.99 389.97,294.99 390.30,294.99 390.63,294.99 390.96,294.99 391.29,294.99 391.62,294.99 391.95,294.99 392.28,294.99 392.62,294.99 392.95,294.99 393.28,294.99 393.61,294.99 393.94,294.99 394.27,294.99 394.60,294.99 394.93,294.99 395.26,294.99 395.59,294.99 395.92,294.99 396.25,294.99 396.58,294.99 396.92,294.99 397.25,294.99 397.58,294.99 397.91,294.99 398.24,294.99 398.57,294.99 398.90,294.99 399.23,294.99 399.56,294.99 399.89,294.99 400.22,294.99 400.55,294.99 400.88,294.99 401.22,294.99 401.55,294.99 401.88,294.99 402.21,294.99 402.54,294.99 402.87,294.99 403.20,294.99 403.53,294.99 403.86,294.99 404.19,294.99 404.52,294.99 404.85,294.99 405.19,294.99 405.52,294.99 405.85,294.99 406.18,294.99 406.51,294.99 406.84,294.99 407.17,294.99 407.50,294.99 407.83,294.99 408.16,294.99 408.49,294.99 408.82,294.99 409.15,294.99 409.49,294.99 409.82,294.99 410.15,294.99 410.48,294.99 410.81,294.99 411.14,294.99 411.47,294.99 411.80,294.99 412.13,294.99 412.46,294.99 412.79,294.99 413.12,294.99 413.45,294.99 413.79,294.99 414.12,294.99 414.45,294.99 414.78,294.99 415.11,294.99 415.44,294.99 415.77,294.99 416.10,294.99 416.43,294.99 416.76,294.99 417.09,294.99 417.42,294.99 417.76,294.99 418.09,294.99 418.42,294.99 418.75,294.99 419.08,294.99 419.41,294.99 419.74,294.99 420.07,294.99 420.40,294.99 420.73,294.99 421.06,294.99 421.39,294.99 421.72,294.99 422.06,294.99 422.39,294.99 422.72,294.99 423.05,294.99 423.38,294.99 423.71,294.99 424.04,294.99 424.37,294.99 424.70,294.99 425.03,294.99 425.36,294.99 425.69,294.99 426.02,294.99 426.36,294.99 426.69,294.99 427.02,294.99 427.35,294.99 427.68,294.99 428.01,294.99 428.34,294.99 428.67,294.99 429.00,294.99 429.33,294.99 429.66,294.99 429.99,294.99 430.32,294.99 430.66,294.99 430.99,294.99 431.32,294.99 431.65,294.99 431.98,294.99 432.31,294.99 432.64,294.99 432.97,294.99 433.30,294.99 433.63,294.99 433.96,294.99 434.29,294.99 434.63,294.99 434.96,294.99 435.29,294.99 435.62,294.99 435.95,294.99 436.28,294.99 436.61,294.99 436.94,294.99 437.27,294.99 437.60,294.99 437.93,294.99 438.26,294.99 438.59,294.99 438.93,294.99 439.26,294.99 439.59,294.99 439.92,294.99 440.25,294.99 440.58,294.99 440.91,294.99 441.24,294.99 441.57,294.99 441.90,294.99 442.23,294.99 442.56,294.99 442.89,294.99 443.23,294.99 443.56,294.99 443.89,294.99 444.22,294.99 444.55,294.99 444.88,294.99 445.21,294.99 445.54,294.99 445.87,294.99 446.20,294.99 446.53,294.99 446.86,294.99 447.20,294.99 447.53,294.99 447.86,294.99 448.19,294.99 448.52,294.99 448.85,294.99 449.18,294.99 449.51,294.99 449.84,294.99 450.17,294.99 450.50,294.99 450.83,294.99 451.16,294.99 451.50,294.99 451.83,294.99 452.16,294.99 452.49,294.99 452.82,294.99 453.15,294.99 453.48,294.99 453.81,294.99 454.14,294.99 454.47,294.99 454.80,294.99 455.13,294.99 455.46,294.99 455.80,294.99 456.13,294.99 456.46,294.99 456.79,294.99 457.12,294.99 457.45,294.99 457.78,294.99 458.11,294.99 458.44,294.99 458.77,294.99 459.10,294.99 459.43,294.99 459.77,294.99 460.10,294.99 460.43,294.99 460.76,294.99 461.09,294.99 461.42,294.99 461.75,294.99 462.08,294.99 462.41,294.99 462.74,294.99 463.07,294.99 463.40,294.99 463.73,294.99 464.07,294.99 464.40,294.99 464.73,294.99 465.06,294.99 465.39,294.99 465.72,294.99 466.05,294.99 466.38,294.99 466.71,294.99 467.04,294.99 467.37,294.99 467.70,294.99 468.03,294.99 468.37,294.99 468.70,294.99 469.03,294.99 469.36,294.99 469.69,294.99 470.02,294.99 470.35,294.99 470.68,294.99 471.01,294.99 471.34,294.99 471.67,294.99 472.00,294.99 472.33,294.99 472.67,294.99 473.00,294.99 473.33,294.99 473.66,294.99 473.99,294.99 474.32,294.99 474.65,294.99 474.98,294.99 475.31,294.99 475.64,294.99 475.97,294.99 476.30,294.99 476.64,294.99 476.97,294.99 477.30,294.99 477.63,294.99 477.96,294.99 478.29,294.99 478.62,294.99 478.95,294.99 479.28,294.99 479.61,294.99 479.94,294.99 480.27,294.99 480.60,294.99 480.94,294.99 481.27,294.99 481.60,294.99 481.93,294.99 482.26,294.99 482.59,294.99 482.92,294.99 483.25,294.99 483.58,294.99 483.91,294.99 484.24,294.99 484.57,294.99 484.90,294.99 485.24,294.99 485.57,294.99 485.90,294.99 486.23,294.99 486.56,294.99 486.89,294.99 487.22,294.99 487.55,294.99 487.88,294.99 488.21,294.99 488.54,294.99 488.87,294.99 489.21,294.99 489.54,294.99 489.87,294.99 490.20,294.99 490.53,294.99 490.86,294.99 491.19,294.99 491.52,294.99 491.85,294.99 492.18,294.99 492.51,294.99 492.84,294.99 493.17,294.99 493.51,294.99 493.84,294.99 494.17,294.99 494.50,294.99 494.83,294.99 495.16,294.99 495.49,294.99 495.82,294.99 496.15,294.99 496.48,294.99 496.81,294.99 497.14,294.99 497.47,294.99 497.81,294.99 498.14,294.99 498.47,294.99 498.80,294.99 499.13,294.99 499.46,294.99 499.79,294.99 500.12,294.99 500.45,294.99 500.78,294.99 501.11,294.99 501.44,294.99 501.77,294.99 502.11,294.99 502.44,294.99 502.77,294.99 503.10,294.99 503.43,294.99 503.76,294.99 504.09,294.99 504.42,294.99 504.75,294.99 505.08,294.99 505.41,294.99 505.74,294.99 506.08,294.99 506.41,294.99 506.74,294.99 507.07,294.99 507.40,294.99 507.73,294.99 508.06,294.99 508.39,294.99 508.72,294.99 509.05,294.99 509.38,294.99 509.71,294.99 510.04,294.99 510.38,294.99 510.71,294.99 511.04,294.99 511.37,294.99 511.70,294.99 512.03,294.99 512.36,294.99 512.69,294.99 513.02,294.99 513.35,294.99 513.68,294.99 514.01,294.99 514.34,294.99 514.68,294.99 515.01,294.99 515.34,294.99 515.67,294.99 516.00,294.99 516.33,294.99 516.66,294.99 516.99,294.99 517.32,294.99 517.65,294.99 517.98,294.99 518.31,294.99 518.65,294.99 518.98,294.99 519.31,294.99 519.64,294.99 519.97,294.99 520.30,294.99 520.63,294.99 520.96,294.99 521.29,294.99 521.62,294.99 521.95,294.99 522.28,294.99 522.61,294.99 522.95,294.99 523.28,294.99 523.61,294.99 523.94,294.99 524.27,294.99 524.60,294.99 524.93,294.99 525.26,294.99 525.59,294.99 525.92,294.99 526.25,294.99 526.58,294.99 526.91,294.99 527.25,294.99 527.58,294.99 527.91,294.99 528.24,294.99 528.57,294.99 528.90,294.99 529.23,294.99 529.56,294.99 529.89,294.99 530.22,294.99 530.55,294.99 530.88,294.99 531.22,294.99 531.55,294.99 531.88,294.99 532.21,294.99 532.54,294.99 532.87,294.99 533.20,294.99 533.53,294.99 533.86,294.99 534.19,294.99 534.52,294.99 534.85,294.99 535.18,294.99 535.52,294.99 535.85,294.99 536.18,294.99 536.51,294.99 536.84,294.99 537.17,294.99 537.50,294.99"/>
<text x="24.80" y="77.40" font-size="12" font-weight="bold" font-style="normal" fill="#262626" textLength="11.80" lengthAdjust="spacingAndGlyphs" >-2</text>
<text x="29.52" y="58.60" font-size="12" font-weight="bold" font-style="normal" fill="#262626" textLength="7.08" lengthAdjust="spacingAndGlyphs" >0</text>
<text x="29.52" y="39.80" font-size="12" font-weight="bold" font-style="normal" fill="#262626" textLength="7.08" lengthAdjust="spacingAndGlyphs" >2</text>
<path d="M43.6,11.30 L49.1,16.90 M43.6,16.90 L49.1,11.30" stroke="#3a3a3a" stroke-width="0.85" fill="none"/>
<text x="52.00" y="18.00" font-size="14.6" font-weight="normal" font-style="normal" fill="#262626" textLength="11.97" lengthAdjust="spacingAndGlyphs" stroke="#262626" stroke-width="0.15">10</text>
<text x="64.00" y="12.90" font-size="8.4" font-weight="normal" font-style="normal" fill="#262626" textLength="4.20" lengthAdjust="spacingAndGlyphs" stroke="#262626" stroke-width="0.2">7</text>
<text x="24.80" y="160.45" font-size="12" font-weight="bold" font-style="normal" fill="#262626" textLength="11.80" lengthAdjust="spacingAndGlyphs" >-1</text>
<text x="29.52" y="146.00" font-size="12" font-weight="bold" font-style="normal" fill="#262626" textLength="7.08" lengthAdjust="spacingAndGlyphs" >0</text>
<text x="29.52" y="131.55" font-size="12" font-weight="bold" font-style="normal" fill="#262626" textLength="7.08" lengthAdjust="spacingAndGlyphs" >1</text>
<text x="29.52" y="117.10" font-size="12" font-weight="bold" font-style="normal" fill="#262626" textLength="7.08" lengthAdjust="spacingAndGlyphs" >2</text>
<path d="M43.6,99.80 L49.1,105.40 M43.6,105.40 L49.1,99.80" stroke="#3a3a3a" stroke-width="0.85" fill="none"/>
<text x="52.00" y="106.50" font-size="14.6" font-weight="normal" font-style="normal" fill="#262626" textLength="11.97" lengthAdjust="spacingAndGlyphs" stroke="#262626" stroke-width="0.15">10</text>
<text x="64.00" y="101.40" font-size="8.4" font-weight="normal" font-style="normal" fill="#262626" textLength="4.20" lengthAdjust="spacingAndGlyphs" stroke="#262626" stroke-width="0.2">7</text>
<text x="29.52" y="243.30" font-size="12" font-weight="bold" font-style="normal" fill="#262626" textLength="7.08" lengthAdjust="spacingAndGlyphs" >0</text>
<text x="29.52" y="223.50" font-size="12" font-weight="bold" font-style="normal" fill="#262626" textLength="7.08" lengthAdjust="spacingAndGlyphs" >2</text>
<text x="29.52" y="203.70" font-size="12" font-weight="bold" font-style="normal" fill="#262626" textLength="7.08" lengthAdjust="spacingAndGlyphs" >4</text>
<path d="M43.6,188.60 L49.1,194.20 M43.6,194.20 L49.1,188.60" stroke="#3a3a3a" stroke-width="0.85" fill="none"/>
<text x="52.00" y="195.30" font-size="14.6" font-weight="normal" font-style="normal" fill="#262626" textLength="11.97" lengthAdjust="spacingAndGlyphs" stroke="#262626" stroke-width="0.15">10</text>
<text x="64.00" y="190.20" font-size="8.4" font-weight="normal" font-style="normal" fill="#262626" textLength="4.20" lengthAdjust="spacingAndGlyphs" stroke="#262626" stroke-width="0.2">7</text>
<text x="29.52" y="345.30" font-size="12" font-weight="bold" font-style="normal" fill="#262626" textLength="7.08" lengthAdjust="spacingAndGlyphs" >0</text>
<text x="29.52" y="328.40" font-size="12" font-weight="bold" font-style="normal" fill="#262626" textLength="7.08" lengthAdjust="spacingAndGlyphs" >5</text>
<text x="22.44" y="311.50" font-size="12" font-weight="bold" font-style="normal" fill="#262626" textLength="14.16" lengthAdjust="spacingAndGlyphs" >10</text>
<text x="22.44" y="294.60" font-size="12" font-weight="bold" font-style="normal" fill="#262626" textLength="14.16" lengthAdjust="spacingAndGlyphs" >15</text>
<path d="M43.6,276.40 L49.1,282.00 M43.6,282.00 L49.1,276.40" stroke="#3a3a3a" stroke-width="0.85" fill="none"/>
<text x="52.00" y="283.10" font-size="14.6" font-weight="normal" font-style="normal" fill="#262626" textLength="11.97" lengthAdjust="spacingAndGlyphs" stroke="#262626" stroke-width="0.15">10</text>
<text x="64.00" y="278.00" font-size="8.4" font-weight="normal" font-style="normal" fill="#262626" textLength="4.20" lengthAdjust="spacingAndGlyphs" stroke="#262626" stroke-width="0.2">4</text>
<text x="38.02" y="358.80" font-size="12" font-weight="bold" font-style="normal" fill="#262626" textLength="7.26" lengthAdjust="spacingAndGlyphs" >0</text>
<text x="87.67" y="358.80" font-size="12" font-weight="bold" font-style="normal" fill="#262626" textLength="18.15" lengthAdjust="spacingAndGlyphs" >0.2</text>
<text x="142.76" y="358.80" font-size="12" font-weight="bold" font-style="normal" fill="#262626" textLength="18.15" lengthAdjust="spacingAndGlyphs" >0.4</text>
<text x="197.86" y="358.80" font-size="12" font-weight="bold" font-style="normal" fill="#262626" textLength="18.15" lengthAdjust="spacingAndGlyphs" >0.6</text>
<text x="252.95" y="358.80" font-size="12" font-weight="bold" font-style="normal" fill="#262626" textLength="18.15" lengthAdjust="spacingAndGlyphs" >0.8</text>
<text x="313.49" y="358.80" font-size="12" font-weight="bold" font-style="normal" fill="#262626" textLength="7.26" lengthAdjust="spacingAndGlyphs" >1</text>
<text x="363.14" y="358.80" font-size="12" font-weight="bold" font-style="normal" fill="#262626" textLength="18.15" lengthAdjust="spacingAndGlyphs" >1.2</text>
<text x="418.24" y="358.80" font-size="12" font-weight="bold" font-style="normal" fill="#262626" textLength="18.15" lengthAdjust="spacingAndGlyphs" >1.4</text>
<text x="473.33" y="358.80" font-size="12" font-weight="bold" font-style="normal" fill="#262626" textLength="18.15" lengthAdjust="spacingAndGlyphs" >1.6</text>
<text x="528.42" y="358.80" font-size="12" font-weight="bold" font-style="normal" fill="#262626" textLength="18.15" lengthAdjust="spacingAndGlyphs" >1.8</text>
<text x="261.76" y="376.00" font-size="13" font-weight="bold" font-style="normal" fill="#262626" textLength="57.48" lengthAdjust="spacingAndGlyphs" >Time (s)</text>
<text x="194.60" y="15.00" font-size="13.4" font-weight="bold" font-style="normal" fill="#000" textLength="189.90" lengthAdjust="spacingAndGlyphs" stroke="#fff" stroke-width="0.15">SSSC Active Power Control</text>
<text x="187.10" y="103.50" font-size="13.4" font-weight="bold" font-style="normal" fill="#000" textLength="205.00" lengthAdjust="spacingAndGlyphs" stroke="#fff" stroke-width="0.15">SSSC Reactive Power Control</text>
<text x="203.50" y="192.00" font-size="13.4" font-weight="bold" font-style="normal" fill="#000" textLength="171.80" lengthAdjust="spacingAndGlyphs" stroke="#fff" stroke-width="0.15">STATCOM Active Power</text>
<text x="176.40" y="280.00" font-size="13.4" font-weight="bold" font-style="normal" fill="#000" textLength="227.00" lengthAdjust="spacingAndGlyphs" stroke="#fff" stroke-width="0.15">STATCOM Grid Voltage Control</text>
<g transform="translate(15.6,0) rotate(-90)">
<text x="-79.80" y="0.00" font-size="12.5" font-weight="normal" font-style="italic" fill="#262626" textLength="10.40" lengthAdjust="spacingAndGlyphs" stroke="#262626" stroke-width="0.1">P</text>
<text x="-70.90" y="2.40" font-size="9" font-weight="normal" font-style="italic" fill="#262626" textLength="16.90" lengthAdjust="spacing" >sssc</text>
<text x="-45.90" y="0.00" font-size="14" font-weight="normal" font-style="normal" fill="#262626" textLength="24.70" lengthAdjust="spacingAndGlyphs" stroke="#262626" stroke-width="0.4">(W)</text>
</g>
<g transform="translate(15.4,0) rotate(-90)">
<text x="-176.90" y="0.00" font-size="12.5" font-weight="normal" font-style="italic" fill="#262626" textLength="9.40" lengthAdjust="spacingAndGlyphs" stroke="#262626" stroke-width="0.1">Q</text>
<text x="-166.00" y="2.40" font-size="9" font-weight="normal" font-style="italic" fill="#262626" textLength="16.80" lengthAdjust="spacing" >sssc</text>
<text x="-144.50" y="0.00" font-size="14" font-weight="normal" font-style="normal" fill="#262626" textLength="45.20" lengthAdjust="spacingAndGlyphs" stroke="#262626" stroke-width="0.4">(VAR)</text>
</g>
<g transform="translate(20.6,0) rotate(-90)">
<text x="-264.60" y="0.00" font-size="12.5" font-weight="normal" font-style="italic" fill="#262626" textLength="11.20" lengthAdjust="spacingAndGlyphs" stroke="#262626" stroke-width="0.1">P</text>
<text x="-254.80" y="2.40" font-size="9" font-weight="normal" font-style="italic" fill="#262626" textLength="31.80" lengthAdjust="spacing" >statcom</text>
<text x="-215.40" y="0.00" font-size="14" font-weight="normal" font-style="normal" fill="#262626" textLength="25.20" lengthAdjust="spacingAndGlyphs" stroke="#262626" stroke-width="0.4">(W)</text>
</g>
<g transform="translate(12.3,0) rotate(-90)">
<text x="-342.00" y="0.00" font-size="12.5" font-weight="normal" font-style="italic" fill="#262626" textLength="9.20" lengthAdjust="spacingAndGlyphs" stroke="#262626" stroke-width="0.1">V</text>
<text x="-335.00" y="2.40" font-size="9" font-weight="normal" font-style="italic" fill="#262626" textLength="17.80" lengthAdjust="spacing" >grid</text>
<text x="-309.90" y="0.00" font-size="14" font-weight="normal" font-style="normal" fill="#262626" textLength="20.50" lengthAdjust="spacingAndGlyphs" stroke="#262626" stroke-width="0.4">(V)</text>
</g>
<rect x="412.5" y="25.2" width="123.50" height="29.30" fill="#fff" stroke="#3a3a3a" stroke-width="0.95"/>
<line x1="415.5" y1="33.3" x2="452.5" y2="33.3" stroke="#06c96a" stroke-width="2.2"/>
<text x="456.60" y="36.00" font-size="11.5" font-weight="normal" font-style="italic" fill="#262626" textLength="7.02" lengthAdjust="spacingAndGlyphs" >P</text>
<text x="463.42" y="38.30" font-size="7.8" font-weight="normal" font-style="italic" fill="#262626" textLength="13.32" lengthAdjust="spacing" >sssc</text>
<text x="481.70" y="36.00" font-size="11" font-weight="bold" font-style="normal" fill="#262626" textLength="33.70" lengthAdjust="spacingAndGlyphs" stroke="#fff" stroke-width="0.12">actual</text>
<line x1="415.5" y1="46.6" x2="452.5" y2="46.6" stroke="#d64508" stroke-width="2.2"/>
<text x="456.60" y="49.50" font-size="11.5" font-weight="normal" font-style="italic" fill="#262626" textLength="7.02" lengthAdjust="spacingAndGlyphs" >P</text>
<text x="463.42" y="51.80" font-size="7.8" font-weight="normal" font-style="italic" fill="#262626" textLength="13.32" lengthAdjust="spacing" >sssc</text>
<text x="481.70" y="49.50" font-size="11" font-weight="bold" font-style="normal" fill="#262626" textLength="50.70" lengthAdjust="spacingAndGlyphs" stroke="#fff" stroke-width="0.12">reference</text>
<rect x="410.4" y="133.0" width="125.90" height="30.30" fill="#fff" stroke="#3a3a3a" stroke-width="0.95"/>
<line x1="414.5" y1="141.5" x2="450.0" y2="141.5" stroke="#0569b8" stroke-width="2.2"/>
<text x="454.00" y="144.40" font-size="11.5" font-weight="normal" font-style="italic" fill="#262626" textLength="8.31" lengthAdjust="spacingAndGlyphs" >Q</text>
<text x="462.11" y="146.70" font-size="7.8" font-weight="normal" font-style="italic" fill="#262626" textLength="13.32" lengthAdjust="spacing" >sssc</text>
<text x="481.70" y="144.40" font-size="11" font-weight="bold" font-style="normal" fill="#262626" textLength="33.70" lengthAdjust="spacingAndGlyphs" stroke="#fff" stroke-width="0.12">actual</text>
<line x1="414.5" y1="155.5" x2="450.0" y2="155.5" stroke="#ef8304" stroke-width="2.2"/>
<text x="454.00" y="158.40" font-size="11.5" font-weight="normal" font-style="italic" fill="#262626" textLength="8.31" lengthAdjust="spacingAndGlyphs" >Q</text>
<text x="462.11" y="160.70" font-size="7.8" font-weight="normal" font-style="italic" fill="#262626" textLength="13.32" lengthAdjust="spacing" >sssc</text>
<text x="481.70" y="158.40" font-size="11" font-weight="bold" font-style="normal" fill="#262626" textLength="50.70" lengthAdjust="spacingAndGlyphs" stroke="#fff" stroke-width="0.12">reference</text>
<rect x="412.4" y="309.4" width="123.90" height="30.60" fill="#fff" stroke="#3a3a3a" stroke-width="0.95"/>
<line x1="416.0" y1="317.9" x2="452.2" y2="317.9" stroke="#0000ff" stroke-width="2.2"/>
<text x="455.40" y="320.50" font-size="11.5" font-weight="normal" font-style="italic" fill="#262626" textLength="7.02" lengthAdjust="spacingAndGlyphs" >V</text>
<text x="462.22" y="322.80" font-size="7.8" font-weight="normal" font-style="italic" fill="#262626" textLength="13.78" lengthAdjust="spacing" >grid</text>
<text x="481.70" y="320.50" font-size="11" font-weight="bold" font-style="normal" fill="#262626" textLength="50.70" lengthAdjust="spacingAndGlyphs" stroke="#fff" stroke-width="0.12">reference</text>
<line x1="416.0" y1="331.8" x2="452.2" y2="331.8" stroke="#ff0000" stroke-width="2.2"/>
<text x="455.40" y="334.50" font-size="11.5" font-weight="normal" font-style="italic" fill="#262626" textLength="7.02" lengthAdjust="spacingAndGlyphs" >V</text>
<text x="462.22" y="336.80" font-size="7.8" font-weight="normal" font-style="italic" fill="#262626" textLength="13.78" lengthAdjust="spacing" >grid</text>
<text x="481.70" y="334.50" font-size="11" font-weight="bold" font-style="normal" fill="#262626" textLength="33.70" lengthAdjust="spacingAndGlyphs" stroke="#fff" stroke-width="0.12">actual</text>
</svg>
</body></html>
